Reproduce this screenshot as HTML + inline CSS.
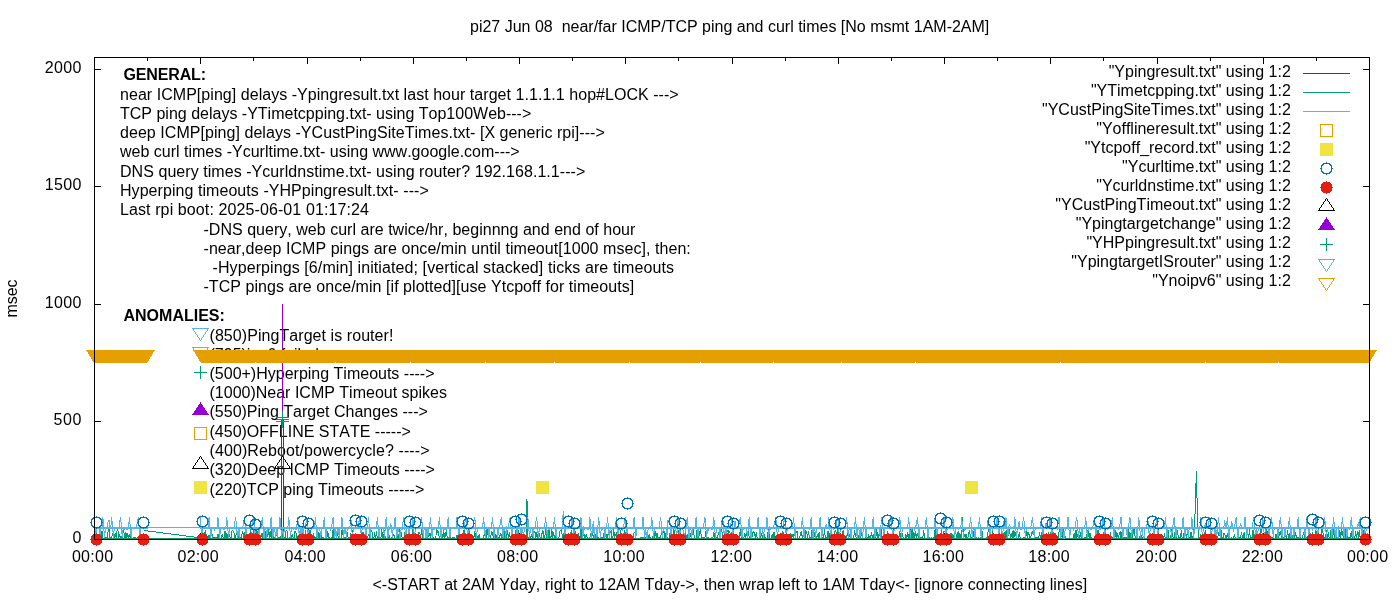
<!DOCTYPE html><html><head><meta charset="utf-8"><style>html,body{margin:0;padding:0;background:#fff;overflow:hidden}svg{display:block;will-change:transform}text{white-space:pre;font-kerning:none}</style></head><body><svg width="1400" height="600" viewBox="0 0 1400 600" font-family="&quot;Liberation Sans&quot;, sans-serif" font-size="16" fill="#000">
<rect width="1400" height="600" fill="#fff"/>
<text x="470" y="32" text-anchor="start">pi27 Jun 08  near/far ICMP/TCP ping and curl times [No msmt 1AM-2AM]</text>
<text x="81.3" y="543" text-anchor="end">0</text>
<text x="81.3" y="425" text-anchor="end" textLength="27.70" lengthAdjust="spacing">500</text>
<text x="81.3" y="308" text-anchor="end" textLength="36.59" lengthAdjust="spacing">1000</text>
<text x="81.3" y="190" text-anchor="end" textLength="36.59" lengthAdjust="spacing">1500</text>
<text x="81.3" y="73" text-anchor="end" textLength="36.59" lengthAdjust="spacing">2000</text>
<text x="92.5" y="562" text-anchor="middle" textLength="41.25" lengthAdjust="spacing">00:00</text>
<text x="198.1" y="562" text-anchor="middle" textLength="41.25" lengthAdjust="spacing">02:00</text>
<text x="305.1" y="562" text-anchor="middle" textLength="41.25" lengthAdjust="spacing">04:00</text>
<text x="411.4" y="562" text-anchor="middle" textLength="41.25" lengthAdjust="spacing">06:00</text>
<text x="517.6" y="562" text-anchor="middle" textLength="41.25" lengthAdjust="spacing">08:00</text>
<text x="623.95" y="562" text-anchor="middle" textLength="41.25" lengthAdjust="spacing">10:00</text>
<text x="731.2" y="562" text-anchor="middle" textLength="41.25" lengthAdjust="spacing">12:00</text>
<text x="837.45" y="562" text-anchor="middle" textLength="41.25" lengthAdjust="spacing">14:00</text>
<text x="943.2" y="562" text-anchor="middle" textLength="41.25" lengthAdjust="spacing">16:00</text>
<text x="1048.95" y="562" text-anchor="middle" textLength="41.25" lengthAdjust="spacing">18:00</text>
<text x="1156.2" y="562" text-anchor="middle" textLength="41.25" lengthAdjust="spacing">20:00</text>
<text x="1262.3" y="562" text-anchor="middle" textLength="41.25" lengthAdjust="spacing">22:00</text>
<text x="1367.6" y="562" text-anchor="middle" textLength="41.25" lengthAdjust="spacing">00:00</text>
<text x="0" y="0" text-anchor="middle" transform="translate(17,298.5) rotate(-90)">msec</text>
<text x="372.5" y="590" text-anchor="start" textLength="714.67" lengthAdjust="spacing">&lt;-START at 2AM Yday, right to 12AM Tday-&gt;, then wrap left to 1AM Tday&lt;- [ignore connecting lines]</text>
<text x="123.5" y="80" text-anchor="start" font-weight="bold" textLength="82.56" lengthAdjust="spacing">GENERAL:</text>
<text x="120" y="100" text-anchor="start" textLength="558.69" lengthAdjust="spacing">near ICMP[ping] delays -Ypingresult.txt last hour target 1.1.1.1 hop#LOCK ---&gt;</text>
<text x="120" y="119" text-anchor="start">TCP ping delays -YTimetcpping.txt- using Top100Web---&gt;</text>
<text x="120" y="138" text-anchor="start" textLength="484.82" lengthAdjust="spacing">deep ICMP[ping] delays -YCustPingSiteTimes.txt- [X generic rpi]---&gt;</text>
<text x="120" y="157" text-anchor="start">web curl times -Ycurltime.txt- using www.google.com---&gt;</text>
<text x="120" y="177" text-anchor="start" textLength="465.27" lengthAdjust="spacing">DNS query times -Ycurldnstime.txt- using router? 192.168.1.1---&gt;</text>
<text x="120" y="196" text-anchor="start" textLength="308.73" lengthAdjust="spacing">Hyperping timeouts -YHPpingresult.txt- ---&gt;</text>
<text x="120" y="215" text-anchor="start" textLength="248.92" lengthAdjust="spacing">Last rpi boot: 2025-06-01 01:17:24</text>
<text x="203.5" y="235" text-anchor="start" textLength="431.87" lengthAdjust="spacing">-DNS query, web curl are twice/hr, beginnng and end of hour</text>
<text x="203.5" y="254" text-anchor="start" textLength="487.31" lengthAdjust="spacing">-near,deep ICMP pings are once/min until timeout[1000 msec], then:</text>
<text x="212.5" y="273" text-anchor="start" textLength="461.50" lengthAdjust="spacing">-Hyperpings [6/min] initiated; [vertical stacked] ticks are timeouts</text>
<text x="203.5" y="292" text-anchor="start" textLength="430.65" lengthAdjust="spacing">-TCP pings are once/min [if plotted][use Ytcpoff for timeouts]</text>
<text x="123.5" y="321" text-anchor="start" font-weight="bold">ANOMALIES:</text>
<text x="209.5" y="341" text-anchor="start" textLength="183.91" lengthAdjust="spacing">(850)PingTarget is router!</text>
<text x="209.5" y="360" text-anchor="start">(795)ipv6 failed -----&gt;</text>
<text x="209.5" y="379" text-anchor="start">(500+)Hyperping Timeouts ----&gt;</text>
<text x="209.5" y="398" text-anchor="start">(1000)Near ICMP Timeout spikes</text>
<text x="209.5" y="417" text-anchor="start">(550)Ping Target Changes ---&gt;</text>
<text x="209.5" y="437" text-anchor="start">(450)OFFLINE STATE -----&gt;</text>
<text x="209.5" y="456" text-anchor="start" textLength="220.02" lengthAdjust="spacing">(400)Reboot/powercycle? ----&gt;</text>
<text x="209.5" y="475" text-anchor="start">(320)Deep ICMP Timeouts ----&gt;</text>
<text x="209.5" y="495" text-anchor="start">(220)TCP ping Timeouts -----&gt;</text>
<g shape-rendering="crispEdges">
<path d="M192.5 328.5L208.5 328.5L200.5 340.5Z" fill="none" stroke="#56b4e9"/>
<path d="M192.5 347.5L208.5 347.5L200.5 359.5Z" fill="none" stroke="#e69f00"/>
<path d="M194 372.5h13M200.5 366v13" stroke="#009e73" fill="none"/>
<path d="M200.5 402L192 415L209 415Z" fill="#9400d3"/>
<rect x="194.5" y="427.5" width="12" height="12" fill="none" stroke="#e69f00"/>
<path d="M200.5 456.5L192.5 468.5L208.5 468.5Z" fill="none" stroke="#000000"/>
<rect x="194" y="481" width="13" height="13" fill="#f0e442"/>
</g>
<text x="1290.8" y="77" text-anchor="end">"Ypingresult.txt" using 1:2</text>
<text x="1290.8" y="96" text-anchor="end">"YTimetcpping.txt" using 1:2</text>
<text x="1290.8" y="115" text-anchor="end">"YCustPingSiteTimes.txt" using 1:2</text>
<text x="1290.8" y="134" text-anchor="end">"Yofflineresult.txt" using 1:2</text>
<text x="1290.8" y="153" text-anchor="end">"Ytcpoff_record.txt" using 1:2</text>
<text x="1290.8" y="172" text-anchor="end">"Ycurltime.txt" using 1:2</text>
<text x="1290.8" y="191" text-anchor="end">"Ycurldnstime.txt" using 1:2</text>
<text x="1290.8" y="210" text-anchor="end">"YCustPingTimeout.txt" using 1:2</text>
<text x="1290.8" y="229" text-anchor="end">"Ypingtargetchange" using 1:2</text>
<text x="1290.8" y="248" text-anchor="end">"YHPpingresult.txt" using 1:2</text>
<text x="1290.8" y="267" text-anchor="end">"YpingtargetISrouter" using 1:2</text>
<text x="1290.8" y="286" text-anchor="end">"Ynoipv6" using 1:2</text>
<path d="M94 539.5h7M1370 539.5h-7M94 421.5h7M1370 421.5h-7M94 304.5h7M1370 304.5h-7M94 186.5h7M1370 186.5h-7M94 69.5h7M1370 69.5h-7M94.5 57v7M94.5 540v-7M147.5 57v4M147.5 540v-4M200.5 57v7M200.5 540v-7M253.5 57v4M253.5 540v-4M307.5 57v7M307.5 540v-7M360.5 57v4M360.5 540v-4M413.5 57v7M413.5 540v-7M466.5 57v4M466.5 540v-4M519.5 57v7M519.5 540v-7M572.5 57v4M572.5 540v-4M625.5 57v7M625.5 540v-7M678.5 57v4M678.5 540v-4M732.5 57v7M732.5 540v-7M785.5 57v4M785.5 540v-4M838.5 57v7M838.5 540v-7M891.5 57v4M891.5 540v-4M944.5 57v7M944.5 540v-7M997.5 57v4M997.5 540v-4M1050.5 57v7M1050.5 540v-7M1103.5 57v4M1103.5 540v-4M1157.5 57v7M1157.5 540v-7M1210.5 57v4M1210.5 540v-4M1263.5 57v7M1263.5 540v-7M1316.5 57v4M1316.5 540v-4M1369.5 57v7M1369.5 540v-7" stroke="#000" fill="none" shape-rendering="crispEdges"/>
<g shape-rendering="crispEdges">
<path d="M281 420h1v116h-1zM282 304h1v116h-1zM283 420h1v116h-1z" fill="#9400d3"/>
<rect x="94" y="538" width="1275" height="1" fill="#009e73"/>
<path d="M144.5 530.5L197.5 537.5" stroke="#009e73" fill="none"/>
<polyline points="200.25,537.98 201.14,538.01 202.02,537.97 202.91,531.87 203.79,537.90 204.68,533.24 205.56,529.91 206.45,538.16 207.33,537.84 208.22,537.96 209.10,535.14 209.99,538.16 210.88,533.65 211.76,532.19 212.65,537.88 213.53,537.95 214.42,537.94 215.30,538.08 216.19,537.83 217.07,537.93 217.96,533.73 218.84,538.15 219.73,538.04 220.61,538.04 221.50,537.88 222.39,533.86 223.27,538.01 224.16,538.04 225.04,531.10 225.93,538.08 226.81,533.05 227.70,537.91 228.58,533.62 229.47,534.85 230.35,538.11 231.24,538.02 232.12,530.42 233.01,531.00 233.90,532.47 234.78,538.08 235.67,537.89 236.55,529.42 237.44,538.04 238.32,537.95 239.21,528.73 240.09,538.09 240.98,538.06 241.86,534.76 242.75,531.41 243.64,537.97 244.52,532.26 245.41,538.01 246.29,537.87 247.18,534.23 248.06,537.89 248.95,533.99 249.83,537.85 250.72,528.99 251.60,537.96 252.49,538.14 253.38,528.91 254.26,537.93 255.15,529.82 256.03,538.07 256.92,530.50 257.80,533.74 258.69,537.88 259.57,538.08 260.46,538.11 261.34,533.47 262.23,538.16 263.11,532.81 264.00,538.13 264.89,529.38 265.77,537.95 266.66,537.97 267.54,535.01 268.43,529.25 269.31,537.84 270.20,531.05 271.08,537.92 271.97,528.66 272.85,531.65 273.74,537.86 274.62,537.93 275.51,537.85 276.40,530.73 277.28,537.87 278.17,537.90 279.05,537.98 279.94,538.04 280.82,537.96 281.71,531.03 282.59,537.87 283.48,538.04 284.36,537.97 285.25,537.88 286.14,530.30 287.02,531.28 287.91,538.10 288.79,538.00 289.68,537.85 290.56,535.17 291.45,537.94 292.33,534.12 293.22,537.94 294.10,537.86 294.99,530.86 295.88,532.40 296.76,537.86 297.65,538.04 298.53,538.07 299.42,531.97 300.30,537.88 301.19,537.84 302.07,534.13 302.96,538.08 303.84,532.52 304.73,538.00 305.61,529.72 306.50,538.02 307.39,535.03 308.27,538.16 309.16,537.98 310.04,530.03 310.93,534.35 311.81,538.17 312.70,538.09 313.58,534.93 314.47,538.02 315.35,537.95 316.24,537.84 317.12,538.11 318.01,538.11 318.90,532.13 319.78,538.11 320.67,532.97 321.55,537.99 322.44,537.91 323.32,537.90 324.21,538.15 325.09,537.92 325.98,532.26 326.86,537.86 327.75,531.50 328.64,537.90 329.52,538.01 330.41,538.11 331.29,537.89 332.18,537.92 333.06,529.32 333.95,537.83 334.83,537.90 335.72,529.25 336.60,538.05 337.49,532.34 338.38,537.91 339.26,538.17 340.15,538.15 341.03,538.12 341.92,530.06 342.80,534.26 343.69,537.92 344.57,537.93 345.46,538.00 346.34,538.15 347.23,531.77 348.11,537.92 349.00,537.99 349.89,537.98 350.77,532.73 351.66,537.86 352.54,529.64 353.43,537.99 354.31,538.11 355.20,538.00 356.08,538.17 356.97,538.00 357.85,537.90 358.74,538.00 359.62,538.15 360.51,538.03 361.40,537.85 362.28,532.13 363.17,532.39 364.05,537.86 364.94,538.07 365.82,531.17 366.71,538.13 367.59,538.17 368.48,533.74 369.36,538.06 370.25,531.16 371.14,530.43 372.02,531.88 372.91,538.11 373.79,538.02 374.68,532.52 375.56,538.12 376.45,531.09 377.33,537.99 378.22,537.96 379.10,538.10 379.99,537.89 380.88,538.07 381.76,529.17 382.65,537.83 383.53,538.13 384.42,530.46 385.30,538.14 386.19,538.03 387.07,538.13 387.96,537.94 388.84,533.92 389.73,537.86 390.61,538.14 391.50,537.91 392.39,537.94 393.27,534.78 394.16,534.99 395.04,538.00 395.93,538.13 396.81,533.90 397.70,537.83 398.58,538.14 399.47,528.98 400.35,537.91 401.24,532.17 402.12,538.03 403.01,538.17 403.90,537.88 404.78,532.25 405.67,538.03 406.55,534.15 407.44,538.17 408.32,537.89 409.21,537.87 410.09,538.03 410.98,538.00 411.86,537.89 412.75,529.24 413.64,537.90 414.52,538.03 415.41,537.87 416.29,537.91 417.18,538.03 418.06,538.15 418.95,532.16 419.83,532.90 420.72,537.96 421.60,529.02 422.49,538.06 423.38,537.98 424.26,538.04 425.15,537.95 426.03,537.91 426.92,538.17 427.80,537.92 428.69,532.60 429.57,533.95 430.46,538.14 431.34,529.28 432.23,538.00 433.11,537.98 434.00,537.95 434.89,538.15 435.77,537.91 436.66,529.12 437.54,532.14 438.43,531.98 439.31,538.16 440.20,538.03 441.08,537.97 441.97,533.36 442.85,537.98 443.74,530.52 444.62,538.17 445.51,534.96 446.40,530.27 447.28,537.86 448.17,538.16 449.05,537.84 449.94,529.28 450.82,538.01 451.71,538.09 452.59,537.85 453.48,538.01 454.36,537.89 455.25,538.14 456.14,538.02 457.02,534.90 457.91,538.13 458.79,537.94 459.68,538.09 460.56,538.03 461.45,537.99 462.33,537.84 463.22,538.09 464.10,529.37 464.99,537.96 465.88,533.45 466.76,537.98 467.65,537.95 468.53,538.11 469.42,528.79 470.30,537.87 471.19,534.84 472.07,538.03 472.96,538.14 473.84,538.15 474.73,530.79 475.61,537.96 476.50,532.09 477.39,538.06 478.27,537.88 479.16,534.45 480.04,537.96 480.93,538.10 481.81,538.09 482.70,538.05 483.58,537.83 484.47,531.63 485.35,537.85 486.24,538.05 487.12,529.48 488.01,534.69 488.90,538.01 489.78,538.07 490.67,538.15 491.55,530.88 492.44,533.24 493.32,537.93 494.21,534.30 495.09,537.92 495.98,534.47 496.86,537.98 497.75,537.85 498.64,538.02 499.52,538.07 500.41,532.61 501.29,537.86 502.18,532.86 503.06,538.05 503.95,538.04 504.83,531.53 505.72,537.99 506.60,537.98 507.49,530.25 508.38,538.08 509.26,531.85 510.15,537.98 511.03,537.95 511.92,538.15 512.80,537.90 513.69,534.70 514.57,537.86 515.46,531.07 516.34,530.33 517.23,538.09 518.11,530.20 519.00,537.91 519.89,538.06 520.77,537.94 521.66,537.99 522.54,537.93 523.43,538.03 524.31,537.94 525.20,537.89 526.08,537.86 526.97,499.05 527.85,537.93 528.74,538.03 529.62,538.13 530.51,537.83 531.40,534.14 532.28,538.03 533.17,528.86 534.05,533.21 534.94,530.98 535.82,538.11 536.71,532.22 537.59,537.86 538.48,534.52 539.36,533.81 540.25,537.92 541.14,538.10 542.02,533.39 542.91,530.26 543.79,537.98 544.68,538.01 545.56,529.40 546.45,538.06 547.33,537.84 548.22,538.10 549.10,529.01 549.99,538.04 550.88,538.00 551.76,528.72 552.65,538.09 553.53,532.13 554.42,537.90 555.30,537.96 556.19,534.21 557.07,538.09 557.96,538.00 558.84,537.83 559.73,531.72 560.61,530.17 561.50,529.84 562.39,537.89 563.27,533.46 564.16,538.14 565.04,538.01 565.93,537.97 566.81,538.07 567.70,538.03 568.58,538.15 569.47,538.10 570.35,537.99 571.24,529.77 572.12,538.07 573.01,533.23 573.90,537.93 574.78,530.72 575.67,532.65 576.55,537.84 577.44,537.95 578.32,532.76 579.21,538.09 580.09,538.02 580.98,528.72 581.86,538.10 582.75,538.08 583.64,531.69 584.52,538.06 585.41,537.94 586.29,533.92 587.18,538.06 588.06,537.98 588.95,538.06 589.83,538.14 590.72,534.62 591.60,537.93 592.49,532.59 593.38,537.97 594.26,533.75 595.15,534.42 596.03,538.15 596.92,538.03 597.80,537.95 598.69,537.89 599.57,538.06 600.46,538.17 601.34,537.93 602.23,537.90 603.11,537.96 604.00,533.06 604.89,537.95 605.77,532.76 606.66,537.90 607.54,537.96 608.43,530.20 609.31,537.98 610.20,531.95 611.08,530.55 611.97,538.00 612.85,537.88 613.74,529.02 614.62,538.11 615.51,533.63 616.40,537.93 617.28,529.13 618.17,538.01 619.05,528.83 619.94,529.29 620.82,537.98 621.71,538.08 622.59,537.83 623.48,537.97 624.36,529.81 625.25,537.86 626.14,531.47 627.02,538.11 627.91,538.15 628.79,534.06 629.68,537.85 630.56,538.07 631.45,537.92 632.33,537.97 633.22,538.17 634.10,532.16 634.99,532.70 635.88,538.12 636.76,538.08 637.65,538.06 638.53,538.16 639.42,538.13 640.30,537.97 641.19,538.03 642.07,537.93 642.96,537.91 643.84,537.83 644.73,537.88 645.61,538.02 646.50,537.86 647.39,537.99 648.27,537.86 649.16,534.88 650.04,537.86 650.93,537.97 651.81,538.07 652.70,538.15 653.58,532.30 654.47,538.04 655.35,530.67 656.24,538.09 657.12,532.64 658.01,538.15 658.90,537.84 659.78,537.87 660.67,537.89 661.55,530.33 662.44,537.86 663.32,530.03 664.21,531.70 665.09,538.18 665.98,533.27 666.86,538.16 667.75,537.89 668.64,538.05 669.52,538.16 670.41,529.33 671.29,538.00 672.18,537.83 673.06,538.10 673.95,529.17 674.83,538.11 675.72,538.05 676.60,538.12 677.49,537.83 678.38,531.08 679.26,529.45 680.15,534.54 681.03,538.07 681.92,537.87 682.80,538.13 683.69,537.85 684.57,538.15 685.46,533.22 686.34,538.11 687.23,533.69 688.11,537.90 689.00,530.88 689.89,537.97 690.77,533.26 691.66,537.94 692.54,531.03 693.43,528.77 694.31,537.99 695.20,538.16 696.08,538.08 696.97,529.95 697.85,533.36 698.74,538.09 699.62,531.63 700.51,529.34 701.40,538.17 702.28,537.91 703.17,537.85 704.05,538.11 704.94,537.95 705.82,530.91 706.71,538.00 707.59,537.88 708.48,537.99 709.36,538.12 710.25,538.12 711.14,538.09 712.02,537.91 712.91,537.90 713.79,532.02 714.68,537.97 715.56,538.17 716.45,537.93 717.33,537.87 718.22,534.24 719.10,531.98 719.99,538.02 720.88,529.99 721.76,529.27 722.65,537.99 723.53,538.09 724.42,533.19 725.30,533.17 726.19,537.99 727.07,531.37 727.96,529.84 728.84,533.56 729.73,530.70 730.61,537.90 731.50,532.54 732.39,538.10 733.27,538.16 734.16,537.91 735.04,538.13 735.93,537.91 736.81,533.66 737.70,538.13 738.58,538.07 739.47,538.15 740.35,528.69 741.24,537.92 742.12,533.57 743.01,538.09 743.90,537.85 744.78,533.02 745.67,537.96 746.55,532.59 747.44,538.16 748.32,530.67 749.21,537.97 750.09,538.01 750.98,537.88 751.86,537.90 752.75,532.95 753.64,531.62 754.52,533.90 755.41,538.01 756.29,532.30 757.18,537.94 758.06,538.11 758.95,538.15 759.83,538.05 760.72,535.12 761.60,533.51 762.49,537.85 763.38,538.08 764.26,534.23 765.15,538.05 766.03,537.92 766.92,538.17 767.80,532.71 768.69,529.43 769.57,537.91 770.46,538.16 771.34,538.09 772.23,534.25 773.11,538.17 774.00,532.45 774.89,538.13 775.77,538.09 776.66,537.94 777.54,533.89 778.43,537.93 779.31,538.04 780.20,538.10 781.08,532.97 781.97,538.16 782.85,531.09 783.74,537.89 784.62,538.07 785.51,537.85 786.40,530.70 787.28,537.84 788.17,538.09 789.05,538.15 789.94,538.04 790.82,532.72 791.71,538.00 792.59,534.20 793.48,538.01 794.36,530.86 795.25,538.14 796.14,532.46 797.02,531.41 797.91,537.98 798.79,538.17 799.68,538.05 800.56,532.58 801.45,531.98 802.33,538.01 803.22,533.57 804.10,532.96 804.99,537.98 805.88,530.84 806.76,532.15 807.65,537.84 808.53,531.45 809.42,537.91 810.30,537.96 811.19,538.03 812.07,529.78 812.96,538.04 813.84,538.16 814.73,531.90 815.61,538.05 816.50,538.12 817.39,533.74 818.27,538.09 819.16,531.66 820.04,538.09 820.93,537.95 821.81,537.96 822.70,537.88 823.58,538.06 824.47,529.41 825.35,537.93 826.24,537.94 827.12,537.89 828.01,531.15 828.90,537.98 829.78,533.36 830.67,537.99 831.55,533.60 832.44,538.11 833.32,538.13 834.21,534.79 835.09,530.60 835.98,532.27 836.86,538.01 837.75,529.54 838.64,538.16 839.52,531.90 840.41,538.04 841.29,538.09 842.18,538.06 843.06,530.24 843.95,537.89 844.83,538.03 845.72,537.96 846.60,537.90 847.49,532.76 848.38,538.10 849.26,535.15 850.15,537.85 851.03,538.13 851.92,538.03 852.80,538.04 853.69,537.83 854.57,530.55 855.46,534.96 856.34,537.92 857.23,538.14 858.11,535.07 859.00,538.01 859.89,533.21 860.77,537.88 861.66,532.66 862.54,537.91 863.43,538.04 864.31,537.99 865.20,538.13 866.08,534.54 866.97,538.09 867.85,538.14 868.74,535.11 869.62,538.13 870.51,538.08 871.40,532.07 872.28,538.09 873.17,534.82 874.05,538.07 874.94,534.04 875.82,537.83 876.71,529.53 877.59,538.03 878.48,538.04 879.36,531.62 880.25,537.96 881.14,529.06 882.02,537.83 882.91,537.88 883.79,538.12 884.68,534.13 885.56,534.75 886.45,537.91 887.33,531.86 888.22,533.86 889.10,538.17 889.99,537.89 890.88,537.92 891.76,537.89 892.65,537.91 893.53,538.14 894.42,538.04 895.30,538.09 896.19,538.17 897.07,538.10 897.96,538.05 898.84,537.89 899.73,531.04 900.61,538.08 901.50,538.06 902.39,533.04 903.27,538.10 904.16,537.98 905.04,538.12 905.93,534.30 906.81,538.03 907.70,531.93 908.58,538.06 909.47,537.84 910.35,529.45 911.24,537.91 912.12,528.74 913.01,537.84 913.90,532.55 914.78,538.11 915.67,530.78 916.55,538.06 917.44,532.89 918.32,538.13 919.21,538.04 920.09,538.10 920.98,537.86 921.86,537.96 922.75,537.98 923.64,529.73 924.52,538.02 925.41,538.03 926.29,538.10 927.18,537.98 928.06,538.17 928.95,538.02 929.83,537.97 930.72,538.12 931.60,537.83 932.49,538.07 933.38,537.83 934.26,537.87 935.15,528.73 936.03,538.09 936.92,537.95 937.80,537.89 938.69,538.00 939.57,538.15 940.46,537.93 941.34,529.93 942.23,537.99 943.11,538.11 944.00,531.00 944.89,531.59 945.77,538.00 946.66,529.98 947.54,537.91 948.43,537.86 949.31,538.12 950.20,534.58 951.08,532.96 951.97,537.88 952.85,534.04 953.74,537.88 954.62,537.86 955.51,528.74 956.40,537.96 957.28,537.92 958.17,530.84 959.05,538.17 959.94,533.17 960.82,538.08 961.71,537.93 962.59,516.67 963.48,538.01 964.36,534.48 965.25,537.96 966.14,533.95 967.02,537.93 967.91,538.05 968.79,532.55 969.68,531.09 970.56,537.89 971.45,538.02 972.33,537.85 973.22,530.61 974.10,537.97 974.99,529.50 975.88,537.88 976.76,538.02 977.65,538.04 978.53,537.97 979.42,538.15 980.30,538.08 981.19,537.84 982.07,530.67 982.96,538.09 983.84,538.13 984.73,538.09 985.61,538.06 986.50,537.88 987.39,537.99 988.27,529.34 989.16,532.85 990.04,537.92 990.93,538.06 991.81,537.84 992.70,531.07 993.58,538.05 994.47,538.07 995.35,537.96 996.24,537.83 997.12,538.04 998.01,537.95 998.90,537.83 999.78,532.20 1000.67,537.95 1001.55,528.73 1002.44,538.05 1003.32,532.64 1004.21,538.15 1005.09,530.97 1005.98,537.92 1006.86,529.90 1007.75,537.90 1008.64,532.16 1009.52,529.58 1010.41,537.86 1011.29,532.93 1012.18,537.99 1013.06,530.05 1013.95,538.00 1014.83,531.50 1015.72,534.66 1016.60,538.07 1017.49,538.09 1018.38,538.16 1019.26,532.27 1020.15,538.02 1021.03,538.14 1021.92,538.12 1022.80,537.99 1023.69,537.96 1024.57,537.84 1025.46,538.17 1026.34,529.85 1027.23,537.93 1028.11,531.75 1029.00,534.51 1029.89,537.84 1030.77,537.88 1031.66,532.50 1032.54,533.52 1033.43,529.19 1034.31,538.01 1035.20,537.86 1036.08,537.98 1036.97,537.86 1037.85,538.07 1038.74,538.09 1039.62,532.42 1040.51,538.05 1041.40,538.02 1042.28,529.74 1043.17,531.77 1044.05,538.04 1044.94,534.59 1045.82,538.07 1046.71,538.10 1047.59,538.01 1048.48,532.56 1049.36,538.18 1050.25,537.84 1051.14,531.30 1052.02,538.07 1052.91,537.97 1053.79,531.97 1054.68,537.91 1055.56,534.63 1056.45,538.08 1057.33,538.03 1058.22,538.04 1059.10,530.77 1059.99,528.76 1060.88,538.06 1061.76,529.85 1062.65,537.95 1063.53,530.22 1064.42,531.13 1065.30,537.85 1066.19,538.17 1067.07,537.91 1067.96,538.18 1068.84,538.03 1069.73,537.83 1070.61,538.15 1071.50,538.02 1072.39,538.04 1073.27,538.02 1074.16,533.13 1075.04,538.15 1075.93,529.75 1076.81,537.98 1077.70,534.46 1078.58,537.84 1079.47,537.85 1080.35,532.51 1081.24,537.88 1082.12,529.49 1083.01,538.17 1083.90,538.04 1084.78,537.85 1085.67,537.93 1086.55,537.90 1087.44,530.36 1088.32,531.39 1089.21,538.06 1090.09,532.94 1090.98,537.99 1091.86,537.98 1092.75,538.05 1093.64,538.01 1094.52,538.06 1095.41,538.10 1096.29,530.43 1097.18,538.09 1098.06,529.81 1098.95,537.92 1099.83,537.96 1100.72,537.83 1101.60,538.02 1102.49,538.10 1103.38,538.14 1104.26,529.66 1105.15,530.64 1106.03,537.98 1106.92,534.24 1107.80,537.91 1108.69,538.14 1109.57,538.10 1110.46,531.72 1111.34,538.13 1112.23,537.97 1113.11,537.85 1114.00,538.05 1114.89,537.92 1115.77,529.60 1116.66,538.08 1117.54,535.11 1118.43,538.09 1119.31,533.58 1120.20,532.05 1121.08,538.08 1121.97,531.89 1122.85,538.12 1123.74,537.88 1124.62,537.99 1125.51,537.99 1126.40,537.85 1127.28,538.09 1128.17,529.08 1129.05,537.90 1129.94,532.26 1130.82,537.92 1131.71,538.00 1132.59,538.05 1133.48,528.99 1134.36,529.05 1135.25,538.15 1136.14,538.14 1137.02,538.14 1137.91,538.07 1138.79,538.16 1139.68,538.15 1140.56,531.48 1141.45,537.94 1142.33,537.90 1143.22,538.15 1144.10,538.11 1144.99,538.05 1145.88,538.11 1146.76,538.03 1147.65,538.15 1148.53,537.98 1149.42,537.98 1150.30,533.26 1151.19,537.93 1152.07,537.83 1152.96,537.85 1153.84,537.85 1154.73,532.02 1155.61,537.94 1156.50,537.96 1157.39,538.15 1158.27,537.84 1159.16,534.50 1160.04,537.84 1160.93,535.03 1161.81,537.93 1162.70,537.97 1163.58,537.89 1164.47,534.79 1165.35,537.83 1166.24,538.03 1167.12,532.96 1168.01,530.17 1168.90,537.97 1169.78,538.06 1170.67,538.02 1171.55,529.44 1172.44,534.25 1173.32,538.01 1174.21,538.06 1175.09,530.93 1175.98,537.99 1176.86,529.47 1177.75,533.71 1178.64,538.06 1179.52,537.94 1180.41,537.99 1181.29,530.22 1182.18,538.10 1183.06,537.83 1183.95,532.89 1184.83,537.83 1185.72,538.13 1186.60,537.90 1187.49,530.04 1188.38,538.08 1189.26,537.92 1190.15,537.89 1191.03,531.96 1191.92,538.15 1192.80,538.13 1193.69,529.46 1194.57,524.90 1195.46,503.75 1196.34,471.09 1197.23,506.10 1198.11,530.78 1199.00,537.92 1199.89,538.02 1200.77,534.45 1201.66,537.85 1202.54,534.02 1203.43,538.16 1204.31,534.04 1205.20,531.77 1206.08,537.98 1206.97,537.99 1207.85,538.15 1208.74,534.74 1209.62,537.91 1210.51,538.00 1211.40,533.07 1212.28,538.07 1213.17,537.83 1214.05,537.96 1214.94,538.01 1215.82,529.03 1216.71,538.17 1217.59,538.04 1218.48,534.17 1219.36,530.39 1220.25,538.17 1221.14,529.98 1222.02,537.95 1222.91,538.11 1223.79,533.24 1224.68,533.53 1225.56,538.05 1226.45,537.96 1227.33,532.89 1228.22,537.97 1229.10,537.99 1229.99,538.06 1230.88,538.10 1231.76,537.88 1232.65,538.12 1233.53,537.83 1234.42,534.12 1235.30,538.09 1236.19,538.12 1237.07,538.08 1237.96,530.72 1238.84,537.98 1239.73,537.85 1240.61,538.04 1241.50,531.97 1242.39,537.98 1243.27,538.01 1244.16,531.97 1245.04,537.95 1245.93,538.08 1246.81,538.15 1247.70,538.09 1248.58,537.90 1249.47,529.30 1250.35,538.03 1251.24,537.84 1252.12,538.01 1253.01,529.71 1253.90,538.06 1254.78,533.82 1255.67,537.89 1256.55,537.85 1257.44,537.90 1258.32,537.89 1259.21,538.12 1260.09,538.07 1260.98,529.19 1261.86,531.87 1262.75,537.90 1263.64,537.86 1264.52,537.95 1265.41,530.85 1266.29,528.78 1267.18,538.07 1268.06,530.67 1268.95,537.83 1269.83,538.13 1270.72,538.16 1271.60,537.91 1272.49,537.87 1273.38,537.84 1274.26,538.00 1275.15,538.05 1276.03,534.18 1276.92,538.10 1277.80,537.90 1278.69,538.00 1279.57,533.44 1280.46,530.98 1281.34,537.85 1282.23,529.14 1283.11,538.08 1284.00,537.96 1284.89,537.90 1285.77,533.40 1286.66,538.01 1287.54,529.56 1288.43,538.01 1289.31,538.09 1290.20,531.42 1291.08,538.06 1291.97,534.90 1292.85,537.99 1293.74,537.95 1294.62,538.03 1295.51,532.12 1296.40,538.13 1297.28,537.94 1298.17,537.98 1299.05,537.85 1299.94,538.09 1300.82,537.83 1301.71,538.11 1302.59,538.16 1303.48,531.61 1304.36,537.92 1305.25,538.06 1306.14,537.95 1307.02,538.02 1307.91,538.14 1308.79,537.84 1309.68,538.16 1310.56,533.47 1311.45,538.02 1312.33,532.44 1313.22,537.92 1314.10,537.95 1314.99,537.96 1315.88,530.56 1316.76,534.88 1317.65,538.17 1318.53,532.67 1319.42,538.14 1320.30,537.88 1321.19,537.97 1322.07,528.77 1322.96,533.24 1323.84,537.87 1324.73,538.03 1325.61,537.86 1326.50,530.03 1327.39,538.02 1328.27,532.37 1329.16,538.07 1330.04,538.03 1330.93,530.16 1331.81,538.01 1332.70,538.02 1333.58,529.33 1334.47,537.90 1335.35,537.94 1336.24,538.07 1337.12,537.84 1338.01,537.94 1338.90,537.95 1339.78,530.17 1340.67,537.83 1341.55,530.56 1342.44,532.50 1343.32,538.09 1344.21,538.10 1345.09,537.83 1345.98,529.23 1346.86,531.40 1347.75,537.88 1348.64,537.97 1349.52,537.91 1350.41,537.97 1351.29,530.60 1352.18,537.99 1353.06,538.13 1353.95,538.06 1354.83,537.84 1355.72,531.51 1356.60,538.00 1357.49,531.12 1358.38,537.94 1359.26,529.94 1360.15,538.13 1361.03,538.02 1361.92,537.83 1362.80,537.84 1363.69,530.25 1364.57,533.26 1365.46,537.93 1366.34,538.04 1367.23,532.88 1368.11,538.17" fill="none" stroke="#009e73" stroke-width="1"/>
<polyline points="94.00,530.92 94.89,533.19 95.77,537.85 96.66,534.07 97.54,534.68 98.43,537.92 99.31,532.02 100.20,538.17 101.08,537.87 101.97,530.61 102.85,538.06 103.74,538.10 104.62,538.07 105.51,537.89 106.40,537.96 107.28,538.10 108.17,531.16 109.05,528.90 109.94,538.02 110.82,537.89 111.71,537.94 112.59,532.90 113.48,538.10 114.36,537.87 115.25,532.84 116.14,537.92 117.02,530.66 117.91,529.71 118.79,537.97 119.68,534.95 120.56,537.83 121.45,537.87 122.33,534.57 123.22,530.65 124.10,533.45 124.99,537.93 125.88,532.16 126.76,537.98 127.65,532.87 128.53,538.07 129.42,535.13 130.30,537.97 131.19,534.50 132.07,538.01 132.96,538.07 133.84,537.91 134.73,537.95 135.61,538.00 136.50,538.04 137.39,538.01 138.27,537.99 139.16,537.86 140.04,535.09 140.93,538.17 141.81,537.96 142.70,533.98" fill="none" stroke="#009e73" stroke-width="1"/>
<rect x="143" y="527" width="58" height="1" fill="#56b4e9"/>
<rect x="95" y="527" width="53" height="2" fill="#56b4e9"/>
<rect x="200" y="527" width="1169" height="2" fill="#56b4e9"/>
<polyline points="200.25,516.89 201.14,527.41 202.02,537.71 202.91,527.41 203.79,527.41 204.68,527.41 205.56,527.41 206.45,527.41 207.33,527.41 208.22,527.41 209.10,516.88 209.99,527.41 210.88,537.60 211.76,527.41 212.65,527.41 213.53,527.41 214.42,529.66 215.30,527.41 216.19,527.41 217.07,527.41 217.96,517.28 218.84,527.41 219.73,537.69 220.61,527.41 221.50,527.41 222.39,527.41 223.27,528.44 224.16,529.83 225.04,527.41 225.93,527.41 226.81,517.42 227.70,527.41 228.58,537.90 229.47,527.41 230.35,527.41 231.24,527.41 232.12,527.41 233.01,527.41 233.90,527.41 234.78,522.13 235.67,516.86 236.55,527.41 237.44,537.82 238.32,527.41 239.21,537.98 240.09,527.41 240.98,527.41 241.86,527.41 242.75,527.41 243.64,522.47 244.52,517.03 245.41,527.41 246.29,538.14 247.18,527.41 248.06,528.82 248.95,527.41 249.83,527.41 250.72,527.41 251.60,529.02 252.49,521.64 253.38,516.99 254.26,527.41 255.15,537.76 256.03,527.41 256.92,530.01 257.80,527.41 258.69,538.15 259.57,529.80 260.46,527.41 261.34,527.41 262.23,517.27 263.11,527.41 264.00,538.11 264.89,527.41 265.77,527.41 266.66,537.85 267.54,527.41 268.43,527.41 269.31,529.14 270.20,527.41 271.08,516.92 271.97,527.41 272.85,538.12 273.74,527.41 274.62,527.41 275.51,537.95 276.40,527.41 277.28,538.10 278.17,527.41 279.05,527.41 279.94,517.45 280.82,527.41 281.71,538.16 282.59,527.41 283.48,538.09 284.36,527.41 285.25,527.41 286.14,527.41 287.02,527.41 287.91,527.41 288.79,517.23 289.68,527.41 290.56,537.79 291.45,527.41 292.33,527.41 293.22,529.26 294.10,527.41 294.99,527.41 295.88,530.02 296.76,527.41 297.65,517.24 298.53,527.41 299.42,538.06 300.30,527.41 301.19,537.88 302.07,527.41 302.96,537.94 303.84,527.41 304.73,527.41 305.61,527.41 306.50,517.33 307.39,527.41 308.27,538.16 309.16,527.41 310.04,527.41 310.93,528.65 311.81,529.76 312.70,527.41 313.58,527.41 314.47,527.41 315.35,516.97 316.24,527.41 317.12,537.76 318.01,527.41 318.90,527.41 319.78,528.71 320.67,538.18 321.55,530.02 322.44,527.41 323.32,527.41 324.21,517.44 325.09,527.41 325.98,538.26 326.86,527.41 327.75,527.41 328.64,527.41 329.52,527.41 330.41,529.88 331.29,527.41 332.18,522.63 333.06,517.36 333.95,527.41 334.83,537.84 335.72,527.41 336.60,538.18 337.49,527.41 338.38,527.41 339.26,537.89 340.15,527.41 341.03,527.41 341.92,517.16 342.80,527.41 343.69,538.27 344.57,527.41 345.46,527.41 346.34,538.06 347.23,528.61 348.11,527.41 349.00,527.41 349.89,527.41 350.77,516.83 351.66,527.41 352.54,538.20 353.43,527.41 354.31,527.41 355.20,527.41 356.08,527.41 356.97,527.41 357.85,527.41 358.74,522.38 359.62,517.29 360.51,527.41 361.40,537.77 362.28,527.41 363.17,527.41 364.05,527.41 364.94,527.41 365.82,538.02 366.71,527.41 367.59,527.41 368.48,517.42 369.36,527.41 370.25,537.60 371.14,527.41 372.02,527.41 372.91,527.41 373.79,527.41 374.68,527.41 375.56,527.41 376.45,527.41 377.33,517.09 378.22,527.41 379.10,537.67 379.99,527.41 380.88,527.41 381.76,527.41 382.65,527.41 383.53,527.41 384.42,538.01 385.30,527.41 386.19,517.40 387.07,527.41 387.96,537.74 388.84,527.41 389.73,529.04 390.61,523.23 391.50,527.41 392.39,537.98 393.27,527.41 394.16,527.41 395.04,517.31 395.93,527.41 396.81,538.04 397.70,527.41 398.58,527.41 399.47,537.70 400.35,537.90 401.24,527.41 402.12,530.07 403.01,522.32 403.90,517.30 404.78,527.41 405.67,537.60 406.55,527.41 407.44,527.41 408.32,528.89 409.21,537.96 410.09,527.41 410.98,527.41 411.86,527.41 412.75,517.20 413.64,527.41 414.52,538.07 415.41,527.41 416.29,527.41 417.18,527.41 418.06,527.41 418.95,527.41 419.83,527.41 420.72,521.68 421.60,516.82 422.49,527.41 423.38,538.15 424.26,527.41 425.15,527.41 426.03,538.27 426.92,527.41 427.80,537.78 428.69,527.41 429.57,527.41 430.46,516.82 431.34,527.41 432.23,538.25 433.11,527.41 434.00,530.01 434.89,527.41 435.77,527.41 436.66,527.41 437.54,527.41 438.43,527.41 439.31,517.24 440.20,527.41 441.08,538.22 441.97,527.41 442.85,527.41 443.74,529.69 444.62,529.80 445.51,529.20 446.40,529.08 447.28,527.41 448.17,517.25 449.05,527.41 449.94,538.21 450.82,527.41 451.71,527.41 452.59,527.41 453.48,527.41 454.36,527.41 455.25,527.41 456.14,527.41 457.02,517.02 457.91,527.41 458.79,537.61 459.68,527.41 460.56,527.41 461.45,527.41 462.33,527.41 463.22,527.41 464.10,529.29 464.99,521.94 465.88,517.14 466.76,527.41 467.65,537.94 468.53,527.41 469.42,529.85 470.30,527.41 471.19,527.41 472.07,527.41 472.96,527.41 473.84,522.14 474.73,517.14 475.61,527.41 476.50,537.73 477.39,527.41 478.27,527.41 479.16,527.41 480.04,527.41 480.93,527.41 481.81,527.41 482.70,527.41 483.58,516.79 484.47,527.41 485.35,538.26 486.24,527.41 487.12,527.41 488.01,528.95 488.90,538.19 489.78,527.41 490.67,527.41 491.55,527.41 492.44,517.18 493.32,527.41 494.21,538.09 495.09,527.41 495.98,527.41 496.86,527.41 497.75,538.29 498.64,527.41 499.52,527.41 500.41,522.59 501.29,516.87 502.18,527.41 503.06,537.77 503.95,527.41 504.83,528.96 505.72,537.98 506.60,527.41 507.49,528.53 508.38,527.41 509.26,521.68 510.15,517.42 511.03,527.41 511.92,538.27 512.80,527.41 513.69,527.41 514.57,527.41 515.46,527.41 516.34,527.41 517.23,538.26 518.11,527.41 519.00,517.17 519.89,527.41 520.77,538.08 521.66,527.41 522.54,527.41 523.43,537.84 524.31,528.55 525.20,527.41 526.08,527.41 526.97,527.41 527.85,516.99 528.74,527.41 529.62,537.66 530.51,527.41 531.40,527.41 532.28,529.24 533.17,537.91 534.05,527.41 534.94,527.41 535.82,522.01 536.71,517.27 537.59,527.41 538.48,538.18 539.36,527.41 540.25,527.41 541.14,527.41 542.02,527.41 542.91,527.41 543.79,527.41 544.68,527.41 545.56,517.17 546.45,527.41 547.33,538.21 548.22,527.41 549.10,529.79 549.99,527.41 550.88,527.41 551.76,527.41 552.65,527.41 553.53,527.41 554.42,517.37 555.30,527.41 556.19,537.61 557.07,527.41 557.96,527.41 558.84,528.91 559.73,527.41 560.61,527.41 561.50,527.41 562.39,527.41 563.27,510.56 564.16,527.41 565.04,537.61 565.93,527.41 566.81,527.41 567.70,527.41 568.58,527.41 569.47,527.41 570.35,527.41 571.24,527.41 572.12,517.25 573.01,527.41 573.90,538.05 574.78,527.41 575.67,527.41 576.55,527.41 577.44,527.41 578.32,527.41 579.21,527.41 580.09,527.41 580.98,517.32 581.86,527.41 582.75,538.07 583.64,527.41 584.52,528.76 585.41,527.41 586.29,527.41 587.18,527.41 588.06,529.84 588.95,527.41 589.83,516.87 590.72,527.41 591.60,538.24 592.49,527.41 593.38,520.98 594.26,537.68 595.15,527.41 596.03,527.41 596.92,538.09 597.80,527.41 598.69,517.30 599.57,527.41 600.46,537.78 601.34,527.41 602.23,529.02 603.11,527.41 604.00,527.41 604.89,538.21 605.77,528.77 606.66,527.41 607.54,517.49 608.43,527.41 609.31,537.98 610.20,527.41 611.08,527.41 611.97,527.41 612.85,529.38 613.74,527.41 614.62,527.41 615.51,527.41 616.40,516.85 617.28,527.41 618.17,537.68 619.05,527.41 619.94,527.41 620.82,528.74 621.71,529.15 622.59,529.92 623.48,527.41 624.36,521.39 625.25,517.09 626.14,527.41 627.02,537.66 627.91,527.41 628.79,527.41 629.68,527.41 630.56,527.41 631.45,527.41 632.33,527.41 633.22,527.41 634.10,517.39 634.99,527.41 635.88,537.92 636.76,527.41 637.65,527.41 638.53,527.41 639.42,527.41 640.30,527.41 641.19,527.41 642.07,527.41 642.96,516.92 643.84,527.41 644.73,538.23 645.61,527.41 646.50,538.26 647.39,537.62 648.27,527.41 649.16,527.41 650.04,527.41 650.93,527.41 651.81,517.30 652.70,527.41 653.58,537.75 654.47,527.41 655.35,527.41 656.24,527.41 657.12,527.41 658.01,529.17 658.90,528.62 659.78,522.41 660.67,516.96 661.55,527.41 662.44,537.88 663.32,527.41 664.21,527.41 665.09,527.41 665.98,527.41 666.86,537.97 667.75,521.41 668.64,522.59 669.52,517.36 670.41,527.41 671.29,537.92 672.18,527.41 673.06,527.41 673.95,528.45 674.83,527.41 675.72,527.41 676.60,537.71 677.49,527.41 678.38,517.37 679.26,527.41 680.15,537.76 681.03,527.41 681.92,527.41 682.80,527.41 683.69,538.21 684.57,538.13 685.46,527.41 686.34,527.41 687.23,517.16 688.11,527.41 689.00,538.21 689.89,527.41 690.77,527.41 691.66,537.84 692.54,527.41 693.43,527.41 694.31,527.41 695.20,527.41 696.08,517.17 696.97,527.41 697.85,538.03 698.74,527.41 699.62,527.41 700.51,527.41 701.40,527.41 702.28,527.41 703.17,527.41 704.05,522.72 704.94,517.22 705.82,527.41 706.71,538.04 707.59,527.41 708.48,529.94 709.36,527.41 710.25,527.41 711.14,527.41 712.02,529.55 712.91,527.41 713.79,517.28 714.68,527.41 715.56,538.20 716.45,527.41 717.33,527.41 718.22,527.41 719.10,527.41 719.99,538.22 720.88,528.81 721.76,521.76 722.65,516.94 723.53,527.41 724.42,538.24 725.30,527.41 726.19,538.07 727.07,527.41 727.96,527.41 728.84,527.41 729.73,527.41 730.61,527.41 731.50,517.16 732.39,527.41 733.27,537.74 734.16,527.41 735.04,520.71 735.93,527.41 736.81,527.41 737.70,527.41 738.58,527.41 739.47,521.39 740.35,517.36 741.24,527.41 742.12,537.73 743.01,527.41 743.90,529.57 744.78,527.41 745.67,527.41 746.55,527.41 747.44,537.66 748.32,527.41 749.21,517.14 750.09,527.41 750.98,538.26 751.86,527.41 752.75,527.41 753.64,527.41 754.52,527.41 755.41,527.41 756.29,527.41 757.18,527.41 758.06,517.45 758.95,527.41 759.83,538.12 760.72,527.41 761.60,527.41 762.49,527.41 763.38,538.25 764.26,529.39 765.15,527.41 766.03,527.41 766.92,517.10 767.80,527.41 768.69,538.09 769.57,527.41 770.46,528.96 771.34,527.41 772.23,527.41 773.11,527.41 774.00,524.63 774.89,522.36 775.77,517.42 776.66,527.41 777.54,538.27 778.43,527.41 779.31,527.41 780.20,528.62 781.08,527.41 781.97,527.41 782.85,527.41 783.74,522.64 784.62,516.94 785.51,527.41 786.40,537.90 787.28,527.41 788.17,527.41 789.05,527.41 789.94,527.41 790.82,527.41 791.71,527.41 792.59,527.41 793.48,516.87 794.36,527.41 795.25,537.78 796.14,527.41 797.02,527.41 797.91,527.41 798.79,527.41 799.68,527.41 800.56,527.41 801.45,527.41 802.33,516.89 803.22,527.41 804.10,538.26 804.99,527.41 805.88,527.41 806.76,527.41 807.65,527.41 808.53,527.41 809.42,529.29 810.30,527.41 811.19,516.83 812.07,527.41 812.96,538.18 813.84,527.41 814.73,527.41 815.61,537.76 816.50,527.41 817.39,527.41 818.27,527.41 819.16,527.41 820.04,517.49 820.93,527.41 821.81,538.14 822.70,527.41 823.58,527.41 824.47,527.41 825.35,527.41 826.24,524.48 827.12,527.41 828.01,527.41 828.90,517.45 829.78,527.41 830.67,537.64 831.55,527.41 832.44,527.41 833.32,529.28 834.21,527.41 835.09,528.61 835.98,527.41 836.86,522.16 837.75,517.30 838.64,527.41 839.52,537.82 840.41,527.41 841.29,529.52 842.18,527.41 843.06,527.41 843.95,527.41 844.83,527.41 845.72,527.41 846.60,516.84 847.49,527.41 848.38,537.66 849.26,527.41 850.15,527.41 851.03,538.12 851.92,527.41 852.80,527.41 853.69,527.41 854.57,527.41 855.46,516.80 856.34,527.41 857.23,538.07 858.11,527.41 859.00,529.92 859.89,537.78 860.77,527.41 861.66,529.68 862.54,537.74 863.43,527.41 864.31,517.31 865.20,527.41 866.08,538.22 866.97,527.41 867.85,527.41 868.74,527.41 869.62,527.41 870.51,527.41 871.40,527.41 872.28,527.41 873.17,517.14 874.05,527.41 874.94,538.10 875.82,527.41 876.71,527.41 877.59,527.41 878.48,527.41 879.36,527.41 880.25,537.61 881.14,522.47 882.02,516.82 882.91,527.41 883.79,537.63 884.68,527.41 885.56,527.41 886.45,527.41 887.33,527.41 888.22,527.41 889.10,527.41 889.99,521.75 890.88,516.91 891.76,527.41 892.65,537.70 893.53,527.41 894.42,529.97 895.30,527.41 896.19,527.41 897.07,527.41 897.96,527.41 898.84,527.41 899.73,517.02 900.61,527.41 901.50,537.83 902.39,527.41 903.27,527.41 904.16,527.41 905.04,527.41 905.93,528.59 906.81,527.41 907.70,527.41 908.58,517.17 909.47,527.41 910.35,538.15 911.24,527.41 912.12,527.41 913.01,527.41 913.90,527.41 914.78,530.06 915.67,527.41 916.55,522.47 917.44,517.34 918.32,527.41 919.21,538.00 920.09,527.41 920.98,527.41 921.86,527.41 922.75,527.41 923.64,528.64 924.52,527.41 925.41,527.41 926.29,517.06 927.18,527.41 928.06,538.05 928.95,527.41 929.83,527.41 930.72,528.98 931.60,528.95 932.49,527.41 933.38,527.41 934.26,527.41 935.15,516.93 936.03,527.41 936.92,537.62 937.80,527.41 938.69,527.41 939.57,527.41 940.46,527.41 941.34,529.06 942.23,527.41 943.11,527.41 944.00,517.07 944.89,527.41 945.77,538.04 946.66,527.41 947.54,528.70 948.43,527.41 949.31,527.41 950.20,527.41 951.08,527.41 951.97,527.41 952.85,516.80 953.74,527.41 954.62,537.97 955.51,527.41 956.40,527.41 957.28,527.41 958.17,529.53 959.05,527.41 959.94,527.41 960.82,527.41 961.71,517.30 962.59,527.41 963.48,537.81 964.36,527.41 965.25,529.57 966.14,527.41 967.02,529.09 967.91,527.41 968.79,527.41 969.68,527.41 970.56,516.81 971.45,527.41 972.33,538.16 973.22,527.41 974.10,527.41 974.99,538.28 975.88,527.41 976.76,527.41 977.65,527.41 978.53,527.41 979.42,517.13 980.30,527.41 981.19,538.11 982.07,527.41 982.96,527.41 983.84,529.50 984.73,527.41 985.61,527.41 986.50,527.41 987.39,527.41 988.27,517.08 989.16,527.41 990.04,537.68 990.93,527.41 991.81,527.41 992.70,529.86 993.58,527.41 994.47,527.41 995.35,527.41 996.24,527.41 997.12,517.39 998.01,527.41 998.90,537.90 999.78,527.41 1000.67,527.41 1001.55,527.41 1002.44,537.61 1003.32,527.41 1004.21,519.83 1005.09,527.41 1005.98,517.45 1006.86,527.41 1007.75,537.82 1008.64,527.41 1009.52,523.77 1010.41,527.41 1011.29,527.41 1012.18,527.41 1013.06,527.41 1013.95,527.41 1014.83,516.80 1015.72,527.41 1016.60,537.67 1017.49,527.41 1018.38,527.41 1019.26,520.64 1020.15,529.11 1021.03,529.91 1021.92,527.41 1022.80,521.77 1023.69,517.13 1024.57,527.41 1025.46,538.29 1026.34,527.41 1027.23,527.41 1028.11,528.61 1029.00,527.41 1029.89,527.41 1030.77,527.41 1031.66,521.80 1032.54,517.47 1033.43,527.41 1034.31,537.92 1035.20,527.41 1036.08,527.41 1036.97,527.41 1037.85,528.88 1038.74,527.41 1039.62,527.41 1040.51,527.41 1041.40,517.09 1042.28,527.41 1043.17,538.00 1044.05,527.41 1044.94,527.41 1045.82,523.42 1046.71,527.41 1047.59,527.41 1048.48,527.41 1049.36,527.41 1050.25,517.36 1051.14,527.41 1052.02,538.29 1052.91,527.41 1053.79,527.41 1054.68,527.41 1055.56,527.41 1056.45,527.41 1057.33,529.80 1058.22,521.92 1059.10,517.06 1059.99,527.41 1060.88,537.62 1061.76,527.41 1062.65,527.41 1063.53,538.14 1064.42,538.27 1065.30,527.41 1066.19,527.41 1067.07,527.41 1067.96,516.83 1068.84,527.41 1069.73,538.07 1070.61,527.41 1071.50,527.41 1072.39,527.41 1073.27,530.02 1074.16,527.41 1075.04,527.41 1075.93,521.80 1076.81,517.33 1077.70,527.41 1078.58,537.81 1079.47,527.41 1080.35,527.41 1081.24,527.41 1082.12,538.18 1083.01,527.41 1083.90,527.41 1084.78,527.41 1085.67,517.12 1086.55,527.41 1087.44,538.26 1088.32,527.41 1089.21,527.41 1090.09,527.41 1090.98,529.58 1091.86,528.62 1092.75,527.41 1093.64,522.28 1094.52,517.35 1095.41,527.41 1096.29,537.99 1097.18,527.41 1098.06,527.41 1098.95,527.41 1099.83,529.19 1100.72,529.34 1101.60,527.41 1102.49,521.63 1103.38,517.33 1104.26,527.41 1105.15,538.02 1106.03,527.41 1106.92,527.41 1107.80,529.16 1108.69,527.41 1109.57,527.41 1110.46,527.41 1111.34,527.41 1112.23,517.34 1113.11,527.41 1114.00,538.15 1114.89,527.41 1115.77,527.41 1116.66,527.41 1117.54,527.41 1118.43,528.93 1119.31,527.41 1120.20,522.61 1121.08,516.84 1121.97,527.41 1122.85,537.70 1123.74,527.41 1124.62,527.41 1125.51,527.41 1126.40,527.41 1127.28,537.78 1128.17,527.41 1129.05,522.78 1129.94,517.41 1130.82,527.41 1131.71,538.24 1132.59,527.41 1133.48,527.41 1134.36,527.41 1135.25,527.41 1136.14,529.01 1137.02,538.20 1137.91,527.41 1138.79,517.04 1139.68,527.41 1140.56,537.73 1141.45,527.41 1142.33,527.41 1143.22,538.08 1144.10,537.95 1144.99,528.64 1145.88,527.41 1146.76,527.41 1147.65,517.15 1148.53,527.41 1149.42,537.65 1150.30,527.41 1151.19,527.41 1152.07,527.41 1152.96,527.41 1153.84,538.05 1154.73,528.81 1155.61,527.41 1156.50,516.80 1157.39,527.41 1158.27,538.09 1159.16,527.41 1160.04,527.41 1160.93,527.41 1161.81,527.41 1162.70,527.41 1163.58,527.41 1164.47,527.41 1165.35,517.31 1166.24,527.41 1167.12,537.86 1168.01,527.41 1168.90,528.96 1169.78,527.41 1170.67,527.41 1171.55,537.89 1172.44,529.31 1173.32,522.20 1174.21,516.92 1175.09,527.41 1175.98,537.77 1176.86,527.41 1177.75,527.41 1178.64,527.41 1179.52,527.41 1180.41,528.77 1181.29,527.41 1182.18,527.41 1183.06,517.40 1183.95,527.41 1184.83,537.97 1185.72,527.41 1186.60,529.87 1187.49,529.37 1188.38,537.71 1189.26,527.41 1190.15,527.41 1191.03,527.41 1191.92,517.38 1192.80,527.41 1193.69,538.10 1194.57,527.41 1195.46,527.41 1196.34,527.41 1197.23,527.41 1198.11,527.41 1199.00,529.74 1199.89,527.41 1200.77,516.90 1201.66,527.41 1202.54,537.63 1203.43,527.41 1204.31,527.41 1205.20,524.66 1206.08,527.41 1206.97,527.41 1207.85,527.41 1208.74,522.50 1209.62,517.49 1210.51,527.41 1211.40,538.27 1212.28,527.41 1213.17,527.41 1214.05,527.41 1214.94,538.28 1215.82,527.41 1216.71,537.86 1217.59,527.41 1218.48,516.97 1219.36,527.41 1220.25,538.10 1221.14,527.41 1222.02,527.41 1222.91,527.41 1223.79,527.41 1224.68,520.41 1225.56,527.41 1226.45,527.41 1227.33,517.25 1228.22,527.41 1229.10,537.62 1229.99,527.41 1230.88,527.41 1231.76,521.56 1232.65,527.41 1233.53,530.00 1234.42,527.41 1235.30,522.64 1236.19,516.95 1237.07,527.41 1237.96,538.19 1238.84,527.41 1239.73,527.41 1240.61,523.02 1241.50,527.41 1242.39,527.41 1243.27,527.41 1244.16,527.41 1245.04,517.07 1245.93,527.41 1246.81,537.64 1247.70,527.41 1248.58,527.41 1249.47,527.41 1250.35,527.41 1251.24,527.41 1252.12,527.41 1253.01,521.88 1253.90,516.89 1254.78,527.41 1255.67,537.79 1256.55,527.41 1257.44,538.28 1258.32,527.41 1259.21,527.41 1260.09,527.41 1260.98,527.41 1261.86,527.41 1262.75,517.07 1263.64,527.41 1264.52,537.91 1265.41,527.41 1266.29,527.41 1267.18,527.41 1268.06,527.41 1268.95,538.21 1269.83,527.41 1270.72,527.41 1271.60,516.83 1272.49,527.41 1273.38,538.09 1274.26,527.41 1275.15,527.41 1276.03,527.41 1276.92,527.41 1277.80,537.74 1278.69,529.70 1279.57,522.50 1280.46,517.36 1281.34,527.41 1282.23,538.24 1283.11,527.41 1284.00,527.41 1284.89,537.84 1285.77,527.41 1286.66,527.41 1287.54,527.41 1288.43,527.41 1289.31,517.29 1290.20,527.41 1291.08,537.97 1291.97,527.41 1292.85,527.41 1293.74,537.78 1294.62,527.41 1295.51,527.41 1296.40,527.41 1297.28,527.41 1298.17,516.96 1299.05,527.41 1299.94,538.09 1300.82,527.41 1301.71,527.41 1302.59,527.41 1303.48,527.41 1304.36,527.41 1305.25,537.62 1306.14,527.41 1307.02,517.15 1307.91,527.41 1308.79,537.59 1309.68,527.41 1310.56,527.41 1311.45,527.41 1312.33,530.04 1313.22,527.41 1314.10,527.41 1314.99,527.41 1315.88,516.95 1316.76,527.41 1317.65,537.99 1318.53,527.41 1319.42,527.41 1320.30,527.41 1321.19,527.41 1322.07,527.41 1322.96,527.41 1323.84,527.41 1324.73,517.43 1325.61,527.41 1326.50,537.82 1327.39,527.41 1328.27,527.41 1329.16,527.41 1330.04,527.41 1330.93,527.41 1331.81,537.93 1332.70,527.41 1333.58,517.38 1334.47,527.41 1335.35,537.67 1336.24,527.41 1337.12,537.79 1338.01,537.93 1338.90,527.41 1339.78,528.66 1340.67,528.46 1341.55,527.41 1342.44,517.18 1343.32,527.41 1344.21,537.85 1345.09,527.41 1345.98,527.41 1346.86,538.04 1347.75,527.41 1348.64,527.41 1349.52,529.18 1350.41,527.41 1351.29,517.11 1352.18,527.41 1353.06,537.74 1353.95,527.41 1354.83,527.41 1355.72,527.41 1356.60,527.41 1357.49,527.41 1358.38,522.07 1359.26,527.41 1360.15,517.46 1361.03,527.41 1361.92,537.84 1362.80,527.41 1363.69,527.41 1364.57,527.41 1365.46,538.13 1366.34,527.41 1367.23,527.41 1368.11,527.41" fill="none" stroke="#56b4e9" stroke-width="1"/>
<polyline points="94.00,517.31 94.89,527.41 95.77,537.86 96.66,527.41 97.54,527.41 98.43,527.41 99.31,527.41 100.20,537.61 101.08,527.41 101.97,527.41 102.85,517.32 103.74,527.41 104.62,537.79 105.51,527.41 106.40,527.41 107.28,527.41 108.17,520.45 109.05,520.40 109.94,527.41 110.82,527.41 111.71,517.09 112.59,527.41 113.48,537.93 114.36,527.41 115.25,527.41 116.14,527.41 117.02,527.41 117.91,527.41 118.79,528.44 119.68,522.71 120.56,516.92 121.45,527.41 122.33,538.10 123.22,527.41 124.10,529.78 124.99,527.41 125.88,527.41 126.76,529.80 127.65,529.98 128.53,527.41 129.42,517.15 130.30,527.41 131.19,537.61 132.07,527.41 132.96,527.41 133.84,527.41 134.73,527.41 135.61,527.41 136.50,527.41 137.39,522.26 138.27,517.16 139.16,527.41 140.04,538.22 140.93,527.41 141.81,527.41 142.70,527.41" fill="none" stroke="#56b4e9" stroke-width="1"/>
<rect x="536" y="481" width="13" height="13" fill="#f0e442"/>
<rect x="965" y="481" width="13" height="13" fill="#f0e442"/>
<path d="M96 516h1v1h-1zM93 517h7v1h-7zM92 518h2v1h-2zM99 518h2v1h-2zM91 519h2v1h-2zM100 519h2v1h-2zM91 520h1v1h-1zM91 521h1v1h-1zM91 522h1v1h-1zM91 523h1v1h-1zM91 524h1v1h-1zM101 520h1v1h-1zM101 521h1v1h-1zM101 522h1v1h-1zM101 523h1v1h-1zM101 524h1v1h-1zM91 525h2v1h-2zM100 525h2v1h-2zM92 526h2v1h-2zM99 526h2v1h-2zM93 527h7v1h-7zM96 528h1v1h-1zM90 522h1v1h-1zM102 522h1v1h-1z" fill="#0072b2"/>
<path d="M143 516h1v1h-1zM140 517h7v1h-7zM139 518h2v1h-2zM146 518h2v1h-2zM138 519h2v1h-2zM147 519h2v1h-2zM138 520h1v1h-1zM138 521h1v1h-1zM138 522h1v1h-1zM138 523h1v1h-1zM138 524h1v1h-1zM148 520h1v1h-1zM148 521h1v1h-1zM148 522h1v1h-1zM148 523h1v1h-1zM148 524h1v1h-1zM138 525h2v1h-2zM147 525h2v1h-2zM139 526h2v1h-2zM146 526h2v1h-2zM140 527h7v1h-7zM143 528h1v1h-1zM137 522h1v1h-1zM149 522h1v1h-1z" fill="#0072b2"/>
<path d="M202 515h1v1h-1zM199 516h7v1h-7zM198 517h2v1h-2zM205 517h2v1h-2zM197 518h2v1h-2zM206 518h2v1h-2zM197 519h1v1h-1zM197 520h1v1h-1zM197 521h1v1h-1zM197 522h1v1h-1zM197 523h1v1h-1zM207 519h1v1h-1zM207 520h1v1h-1zM207 521h1v1h-1zM207 522h1v1h-1zM207 523h1v1h-1zM197 524h2v1h-2zM206 524h2v1h-2zM198 525h2v1h-2zM205 525h2v1h-2zM199 526h7v1h-7zM202 527h1v1h-1zM196 521h1v1h-1zM208 521h1v1h-1z" fill="#0072b2"/>
<path d="M1365 516h1v1h-1zM1362 517h7v1h-7zM1361 518h2v1h-2zM1368 518h2v1h-2zM1360 519h2v1h-2zM1369 519h2v1h-2zM1360 520h1v1h-1zM1360 521h1v1h-1zM1360 522h1v1h-1zM1360 523h1v1h-1zM1360 524h1v1h-1zM1370 520h1v1h-1zM1370 521h1v1h-1zM1370 522h1v1h-1zM1370 523h1v1h-1zM1370 524h1v1h-1zM1360 525h2v1h-2zM1369 525h2v1h-2zM1361 526h2v1h-2zM1368 526h2v1h-2zM1362 527h7v1h-7zM1365 528h1v1h-1zM1359 522h1v1h-1zM1371 522h1v1h-1z" fill="#0072b2"/>
<path d="M627 497h1v1h-1zM624 498h7v1h-7zM623 499h2v1h-2zM630 499h2v1h-2zM622 500h2v1h-2zM631 500h2v1h-2zM622 501h1v1h-1zM622 502h1v1h-1zM622 503h1v1h-1zM622 504h1v1h-1zM622 505h1v1h-1zM632 501h1v1h-1zM632 502h1v1h-1zM632 503h1v1h-1zM632 504h1v1h-1zM632 505h1v1h-1zM622 506h2v1h-2zM631 506h2v1h-2zM623 507h2v1h-2zM630 507h2v1h-2zM624 508h7v1h-7zM627 509h1v1h-1zM621 503h1v1h-1zM633 503h1v1h-1z" fill="#0072b2"/>
<path d="M249 514h1v1h-1zM246 515h7v1h-7zM245 516h2v1h-2zM252 516h2v1h-2zM244 517h2v1h-2zM253 517h2v1h-2zM244 518h1v1h-1zM244 519h1v1h-1zM244 520h1v1h-1zM244 521h1v1h-1zM244 522h1v1h-1zM254 518h1v1h-1zM254 519h1v1h-1zM254 520h1v1h-1zM254 521h1v1h-1zM254 522h1v1h-1zM244 523h2v1h-2zM253 523h2v1h-2zM245 524h2v1h-2zM252 524h2v1h-2zM246 525h7v1h-7zM249 526h1v1h-1zM243 520h1v1h-1zM255 520h1v1h-1z" fill="#0072b2"/>
<path d="M255 518h1v1h-1zM252 519h7v1h-7zM251 520h2v1h-2zM258 520h2v1h-2zM250 521h2v1h-2zM259 521h2v1h-2zM250 522h1v1h-1zM250 523h1v1h-1zM250 524h1v1h-1zM250 525h1v1h-1zM250 526h1v1h-1zM260 522h1v1h-1zM260 523h1v1h-1zM260 524h1v1h-1zM260 525h1v1h-1zM260 526h1v1h-1zM250 527h2v1h-2zM259 527h2v1h-2zM251 528h2v1h-2zM258 528h2v1h-2zM252 529h7v1h-7zM255 530h1v1h-1zM249 524h1v1h-1zM261 524h1v1h-1z" fill="#0072b2"/>
<path d="M302 515h1v1h-1zM299 516h7v1h-7zM298 517h2v1h-2zM305 517h2v1h-2zM297 518h2v1h-2zM306 518h2v1h-2zM297 519h1v1h-1zM297 520h1v1h-1zM297 521h1v1h-1zM297 522h1v1h-1zM297 523h1v1h-1zM307 519h1v1h-1zM307 520h1v1h-1zM307 521h1v1h-1zM307 522h1v1h-1zM307 523h1v1h-1zM297 524h2v1h-2zM306 524h2v1h-2zM298 525h2v1h-2zM305 525h2v1h-2zM299 526h7v1h-7zM302 527h1v1h-1zM296 521h1v1h-1zM308 521h1v1h-1z" fill="#0072b2"/>
<path d="M308 517h1v1h-1zM305 518h7v1h-7zM304 519h2v1h-2zM311 519h2v1h-2zM303 520h2v1h-2zM312 520h2v1h-2zM303 521h1v1h-1zM303 522h1v1h-1zM303 523h1v1h-1zM303 524h1v1h-1zM303 525h1v1h-1zM313 521h1v1h-1zM313 522h1v1h-1zM313 523h1v1h-1zM313 524h1v1h-1zM313 525h1v1h-1zM303 526h2v1h-2zM312 526h2v1h-2zM304 527h2v1h-2zM311 527h2v1h-2zM305 528h7v1h-7zM308 529h1v1h-1zM302 523h1v1h-1zM314 523h1v1h-1z" fill="#0072b2"/>
<path d="M355 514h1v1h-1zM352 515h7v1h-7zM351 516h2v1h-2zM358 516h2v1h-2zM350 517h2v1h-2zM359 517h2v1h-2zM350 518h1v1h-1zM350 519h1v1h-1zM350 520h1v1h-1zM350 521h1v1h-1zM350 522h1v1h-1zM360 518h1v1h-1zM360 519h1v1h-1zM360 520h1v1h-1zM360 521h1v1h-1zM360 522h1v1h-1zM350 523h2v1h-2zM359 523h2v1h-2zM351 524h2v1h-2zM358 524h2v1h-2zM352 525h7v1h-7zM355 526h1v1h-1zM349 520h1v1h-1zM361 520h1v1h-1z" fill="#0072b2"/>
<path d="M361 515h1v1h-1zM358 516h7v1h-7zM357 517h2v1h-2zM364 517h2v1h-2zM356 518h2v1h-2zM365 518h2v1h-2zM356 519h1v1h-1zM356 520h1v1h-1zM356 521h1v1h-1zM356 522h1v1h-1zM356 523h1v1h-1zM366 519h1v1h-1zM366 520h1v1h-1zM366 521h1v1h-1zM366 522h1v1h-1zM366 523h1v1h-1zM356 524h2v1h-2zM365 524h2v1h-2zM357 525h2v1h-2zM364 525h2v1h-2zM358 526h7v1h-7zM361 527h1v1h-1zM355 521h1v1h-1zM367 521h1v1h-1z" fill="#0072b2"/>
<path d="M409 515h1v1h-1zM406 516h7v1h-7zM405 517h2v1h-2zM412 517h2v1h-2zM404 518h2v1h-2zM413 518h2v1h-2zM404 519h1v1h-1zM404 520h1v1h-1zM404 521h1v1h-1zM404 522h1v1h-1zM404 523h1v1h-1zM414 519h1v1h-1zM414 520h1v1h-1zM414 521h1v1h-1zM414 522h1v1h-1zM414 523h1v1h-1zM404 524h2v1h-2zM413 524h2v1h-2zM405 525h2v1h-2zM412 525h2v1h-2zM406 526h7v1h-7zM409 527h1v1h-1zM403 521h1v1h-1zM415 521h1v1h-1z" fill="#0072b2"/>
<path d="M415 516h1v1h-1zM412 517h7v1h-7zM411 518h2v1h-2zM418 518h2v1h-2zM410 519h2v1h-2zM419 519h2v1h-2zM410 520h1v1h-1zM410 521h1v1h-1zM410 522h1v1h-1zM410 523h1v1h-1zM410 524h1v1h-1zM420 520h1v1h-1zM420 521h1v1h-1zM420 522h1v1h-1zM420 523h1v1h-1zM420 524h1v1h-1zM410 525h2v1h-2zM419 525h2v1h-2zM411 526h2v1h-2zM418 526h2v1h-2zM412 527h7v1h-7zM415 528h1v1h-1zM409 522h1v1h-1zM421 522h1v1h-1z" fill="#0072b2"/>
<path d="M462 515h1v1h-1zM459 516h7v1h-7zM458 517h2v1h-2zM465 517h2v1h-2zM457 518h2v1h-2zM466 518h2v1h-2zM457 519h1v1h-1zM457 520h1v1h-1zM457 521h1v1h-1zM457 522h1v1h-1zM457 523h1v1h-1zM467 519h1v1h-1zM467 520h1v1h-1zM467 521h1v1h-1zM467 522h1v1h-1zM467 523h1v1h-1zM457 524h2v1h-2zM466 524h2v1h-2zM458 525h2v1h-2zM465 525h2v1h-2zM459 526h7v1h-7zM462 527h1v1h-1zM456 521h1v1h-1zM468 521h1v1h-1z" fill="#0072b2"/>
<path d="M468 517h1v1h-1zM465 518h7v1h-7zM464 519h2v1h-2zM471 519h2v1h-2zM463 520h2v1h-2zM472 520h2v1h-2zM463 521h1v1h-1zM463 522h1v1h-1zM463 523h1v1h-1zM463 524h1v1h-1zM463 525h1v1h-1zM473 521h1v1h-1zM473 522h1v1h-1zM473 523h1v1h-1zM473 524h1v1h-1zM473 525h1v1h-1zM463 526h2v1h-2zM472 526h2v1h-2zM464 527h2v1h-2zM471 527h2v1h-2zM465 528h7v1h-7zM468 529h1v1h-1zM462 523h1v1h-1zM474 523h1v1h-1z" fill="#0072b2"/>
<path d="M515 515h1v1h-1zM512 516h7v1h-7zM511 517h2v1h-2zM518 517h2v1h-2zM510 518h2v1h-2zM519 518h2v1h-2zM510 519h1v1h-1zM510 520h1v1h-1zM510 521h1v1h-1zM510 522h1v1h-1zM510 523h1v1h-1zM520 519h1v1h-1zM520 520h1v1h-1zM520 521h1v1h-1zM520 522h1v1h-1zM520 523h1v1h-1zM510 524h2v1h-2zM519 524h2v1h-2zM511 525h2v1h-2zM518 525h2v1h-2zM512 526h7v1h-7zM515 527h1v1h-1zM509 521h1v1h-1zM521 521h1v1h-1z" fill="#0072b2"/>
<path d="M521 513h1v1h-1zM518 514h7v1h-7zM517 515h2v1h-2zM524 515h2v1h-2zM516 516h2v1h-2zM525 516h2v1h-2zM516 517h1v1h-1zM516 518h1v1h-1zM516 519h1v1h-1zM516 520h1v1h-1zM516 521h1v1h-1zM526 517h1v1h-1zM526 518h1v1h-1zM526 519h1v1h-1zM526 520h1v1h-1zM526 521h1v1h-1zM516 522h2v1h-2zM525 522h2v1h-2zM517 523h2v1h-2zM524 523h2v1h-2zM518 524h7v1h-7zM521 525h1v1h-1zM515 519h1v1h-1zM527 519h1v1h-1z" fill="#0072b2"/>
<path d="M568 515h1v1h-1zM565 516h7v1h-7zM564 517h2v1h-2zM571 517h2v1h-2zM563 518h2v1h-2zM572 518h2v1h-2zM563 519h1v1h-1zM563 520h1v1h-1zM563 521h1v1h-1zM563 522h1v1h-1zM563 523h1v1h-1zM573 519h1v1h-1zM573 520h1v1h-1zM573 521h1v1h-1zM573 522h1v1h-1zM573 523h1v1h-1zM563 524h2v1h-2zM572 524h2v1h-2zM564 525h2v1h-2zM571 525h2v1h-2zM565 526h7v1h-7zM568 527h1v1h-1zM562 521h1v1h-1zM574 521h1v1h-1z" fill="#0072b2"/>
<path d="M574 517h1v1h-1zM571 518h7v1h-7zM570 519h2v1h-2zM577 519h2v1h-2zM569 520h2v1h-2zM578 520h2v1h-2zM569 521h1v1h-1zM569 522h1v1h-1zM569 523h1v1h-1zM569 524h1v1h-1zM569 525h1v1h-1zM579 521h1v1h-1zM579 522h1v1h-1zM579 523h1v1h-1zM579 524h1v1h-1zM579 525h1v1h-1zM569 526h2v1h-2zM578 526h2v1h-2zM570 527h2v1h-2zM577 527h2v1h-2zM571 528h7v1h-7zM574 529h1v1h-1zM568 523h1v1h-1zM580 523h1v1h-1z" fill="#0072b2"/>
<path d="M621 517h1v1h-1zM618 518h7v1h-7zM617 519h2v1h-2zM624 519h2v1h-2zM616 520h2v1h-2zM625 520h2v1h-2zM616 521h1v1h-1zM616 522h1v1h-1zM616 523h1v1h-1zM616 524h1v1h-1zM616 525h1v1h-1zM626 521h1v1h-1zM626 522h1v1h-1zM626 523h1v1h-1zM626 524h1v1h-1zM626 525h1v1h-1zM616 526h2v1h-2zM625 526h2v1h-2zM617 527h2v1h-2zM624 527h2v1h-2zM618 528h7v1h-7zM621 529h1v1h-1zM615 523h1v1h-1zM627 523h1v1h-1z" fill="#0072b2"/>
<path d="M674 515h1v1h-1zM671 516h7v1h-7zM670 517h2v1h-2zM677 517h2v1h-2zM669 518h2v1h-2zM678 518h2v1h-2zM669 519h1v1h-1zM669 520h1v1h-1zM669 521h1v1h-1zM669 522h1v1h-1zM669 523h1v1h-1zM679 519h1v1h-1zM679 520h1v1h-1zM679 521h1v1h-1zM679 522h1v1h-1zM679 523h1v1h-1zM669 524h2v1h-2zM678 524h2v1h-2zM670 525h2v1h-2zM677 525h2v1h-2zM671 526h7v1h-7zM674 527h1v1h-1zM668 521h1v1h-1zM680 521h1v1h-1z" fill="#0072b2"/>
<path d="M680 517h1v1h-1zM677 518h7v1h-7zM676 519h2v1h-2zM683 519h2v1h-2zM675 520h2v1h-2zM684 520h2v1h-2zM675 521h1v1h-1zM675 522h1v1h-1zM675 523h1v1h-1zM675 524h1v1h-1zM675 525h1v1h-1zM685 521h1v1h-1zM685 522h1v1h-1zM685 523h1v1h-1zM685 524h1v1h-1zM685 525h1v1h-1zM675 526h2v1h-2zM684 526h2v1h-2zM676 527h2v1h-2zM683 527h2v1h-2zM677 528h7v1h-7zM680 529h1v1h-1zM674 523h1v1h-1zM686 523h1v1h-1z" fill="#0072b2"/>
<path d="M727 515h1v1h-1zM724 516h7v1h-7zM723 517h2v1h-2zM730 517h2v1h-2zM722 518h2v1h-2zM731 518h2v1h-2zM722 519h1v1h-1zM722 520h1v1h-1zM722 521h1v1h-1zM722 522h1v1h-1zM722 523h1v1h-1zM732 519h1v1h-1zM732 520h1v1h-1zM732 521h1v1h-1zM732 522h1v1h-1zM732 523h1v1h-1zM722 524h2v1h-2zM731 524h2v1h-2zM723 525h2v1h-2zM730 525h2v1h-2zM724 526h7v1h-7zM727 527h1v1h-1zM721 521h1v1h-1zM733 521h1v1h-1z" fill="#0072b2"/>
<path d="M733 517h1v1h-1zM730 518h7v1h-7zM729 519h2v1h-2zM736 519h2v1h-2zM728 520h2v1h-2zM737 520h2v1h-2zM728 521h1v1h-1zM728 522h1v1h-1zM728 523h1v1h-1zM728 524h1v1h-1zM728 525h1v1h-1zM738 521h1v1h-1zM738 522h1v1h-1zM738 523h1v1h-1zM738 524h1v1h-1zM738 525h1v1h-1zM728 526h2v1h-2zM737 526h2v1h-2zM729 527h2v1h-2zM736 527h2v1h-2zM730 528h7v1h-7zM733 529h1v1h-1zM727 523h1v1h-1zM739 523h1v1h-1z" fill="#0072b2"/>
<path d="M780 515h1v1h-1zM777 516h7v1h-7zM776 517h2v1h-2zM783 517h2v1h-2zM775 518h2v1h-2zM784 518h2v1h-2zM775 519h1v1h-1zM775 520h1v1h-1zM775 521h1v1h-1zM775 522h1v1h-1zM775 523h1v1h-1zM785 519h1v1h-1zM785 520h1v1h-1zM785 521h1v1h-1zM785 522h1v1h-1zM785 523h1v1h-1zM775 524h2v1h-2zM784 524h2v1h-2zM776 525h2v1h-2zM783 525h2v1h-2zM777 526h7v1h-7zM780 527h1v1h-1zM774 521h1v1h-1zM786 521h1v1h-1z" fill="#0072b2"/>
<path d="M786 517h1v1h-1zM783 518h7v1h-7zM782 519h2v1h-2zM789 519h2v1h-2zM781 520h2v1h-2zM790 520h2v1h-2zM781 521h1v1h-1zM781 522h1v1h-1zM781 523h1v1h-1zM781 524h1v1h-1zM781 525h1v1h-1zM791 521h1v1h-1zM791 522h1v1h-1zM791 523h1v1h-1zM791 524h1v1h-1zM791 525h1v1h-1zM781 526h2v1h-2zM790 526h2v1h-2zM782 527h2v1h-2zM789 527h2v1h-2zM783 528h7v1h-7zM786 529h1v1h-1zM780 523h1v1h-1zM792 523h1v1h-1z" fill="#0072b2"/>
<path d="M834 516h1v1h-1zM831 517h7v1h-7zM830 518h2v1h-2zM837 518h2v1h-2zM829 519h2v1h-2zM838 519h2v1h-2zM829 520h1v1h-1zM829 521h1v1h-1zM829 522h1v1h-1zM829 523h1v1h-1zM829 524h1v1h-1zM839 520h1v1h-1zM839 521h1v1h-1zM839 522h1v1h-1zM839 523h1v1h-1zM839 524h1v1h-1zM829 525h2v1h-2zM838 525h2v1h-2zM830 526h2v1h-2zM837 526h2v1h-2zM831 527h7v1h-7zM834 528h1v1h-1zM828 522h1v1h-1zM840 522h1v1h-1z" fill="#0072b2"/>
<path d="M840 517h1v1h-1zM837 518h7v1h-7zM836 519h2v1h-2zM843 519h2v1h-2zM835 520h2v1h-2zM844 520h2v1h-2zM835 521h1v1h-1zM835 522h1v1h-1zM835 523h1v1h-1zM835 524h1v1h-1zM835 525h1v1h-1zM845 521h1v1h-1zM845 522h1v1h-1zM845 523h1v1h-1zM845 524h1v1h-1zM845 525h1v1h-1zM835 526h2v1h-2zM844 526h2v1h-2zM836 527h2v1h-2zM843 527h2v1h-2zM837 528h7v1h-7zM840 529h1v1h-1zM834 523h1v1h-1zM846 523h1v1h-1z" fill="#0072b2"/>
<path d="M887 514h1v1h-1zM884 515h7v1h-7zM883 516h2v1h-2zM890 516h2v1h-2zM882 517h2v1h-2zM891 517h2v1h-2zM882 518h1v1h-1zM882 519h1v1h-1zM882 520h1v1h-1zM882 521h1v1h-1zM882 522h1v1h-1zM892 518h1v1h-1zM892 519h1v1h-1zM892 520h1v1h-1zM892 521h1v1h-1zM892 522h1v1h-1zM882 523h2v1h-2zM891 523h2v1h-2zM883 524h2v1h-2zM890 524h2v1h-2zM884 525h7v1h-7zM887 526h1v1h-1zM881 520h1v1h-1zM893 520h1v1h-1z" fill="#0072b2"/>
<path d="M893 517h1v1h-1zM890 518h7v1h-7zM889 519h2v1h-2zM896 519h2v1h-2zM888 520h2v1h-2zM897 520h2v1h-2zM888 521h1v1h-1zM888 522h1v1h-1zM888 523h1v1h-1zM888 524h1v1h-1zM888 525h1v1h-1zM898 521h1v1h-1zM898 522h1v1h-1zM898 523h1v1h-1zM898 524h1v1h-1zM898 525h1v1h-1zM888 526h2v1h-2zM897 526h2v1h-2zM889 527h2v1h-2zM896 527h2v1h-2zM890 528h7v1h-7zM893 529h1v1h-1zM887 523h1v1h-1zM899 523h1v1h-1z" fill="#0072b2"/>
<path d="M940 512h1v1h-1zM937 513h7v1h-7zM936 514h2v1h-2zM943 514h2v1h-2zM935 515h2v1h-2zM944 515h2v1h-2zM935 516h1v1h-1zM935 517h1v1h-1zM935 518h1v1h-1zM935 519h1v1h-1zM935 520h1v1h-1zM945 516h1v1h-1zM945 517h1v1h-1zM945 518h1v1h-1zM945 519h1v1h-1zM945 520h1v1h-1zM935 521h2v1h-2zM944 521h2v1h-2zM936 522h2v1h-2zM943 522h2v1h-2zM937 523h7v1h-7zM940 524h1v1h-1zM934 518h1v1h-1zM946 518h1v1h-1z" fill="#0072b2"/>
<path d="M946 516h1v1h-1zM943 517h7v1h-7zM942 518h2v1h-2zM949 518h2v1h-2zM941 519h2v1h-2zM950 519h2v1h-2zM941 520h1v1h-1zM941 521h1v1h-1zM941 522h1v1h-1zM941 523h1v1h-1zM941 524h1v1h-1zM951 520h1v1h-1zM951 521h1v1h-1zM951 522h1v1h-1zM951 523h1v1h-1zM951 524h1v1h-1zM941 525h2v1h-2zM950 525h2v1h-2zM942 526h2v1h-2zM949 526h2v1h-2zM943 527h7v1h-7zM946 528h1v1h-1zM940 522h1v1h-1zM952 522h1v1h-1z" fill="#0072b2"/>
<path d="M993 515h1v1h-1zM990 516h7v1h-7zM989 517h2v1h-2zM996 517h2v1h-2zM988 518h2v1h-2zM997 518h2v1h-2zM988 519h1v1h-1zM988 520h1v1h-1zM988 521h1v1h-1zM988 522h1v1h-1zM988 523h1v1h-1zM998 519h1v1h-1zM998 520h1v1h-1zM998 521h1v1h-1zM998 522h1v1h-1zM998 523h1v1h-1zM988 524h2v1h-2zM997 524h2v1h-2zM989 525h2v1h-2zM996 525h2v1h-2zM990 526h7v1h-7zM993 527h1v1h-1zM987 521h1v1h-1zM999 521h1v1h-1z" fill="#0072b2"/>
<path d="M999 515h1v1h-1zM996 516h7v1h-7zM995 517h2v1h-2zM1002 517h2v1h-2zM994 518h2v1h-2zM1003 518h2v1h-2zM994 519h1v1h-1zM994 520h1v1h-1zM994 521h1v1h-1zM994 522h1v1h-1zM994 523h1v1h-1zM1004 519h1v1h-1zM1004 520h1v1h-1zM1004 521h1v1h-1zM1004 522h1v1h-1zM1004 523h1v1h-1zM994 524h2v1h-2zM1003 524h2v1h-2zM995 525h2v1h-2zM1002 525h2v1h-2zM996 526h7v1h-7zM999 527h1v1h-1zM993 521h1v1h-1zM1005 521h1v1h-1z" fill="#0072b2"/>
<path d="M1046 516h1v1h-1zM1043 517h7v1h-7zM1042 518h2v1h-2zM1049 518h2v1h-2zM1041 519h2v1h-2zM1050 519h2v1h-2zM1041 520h1v1h-1zM1041 521h1v1h-1zM1041 522h1v1h-1zM1041 523h1v1h-1zM1041 524h1v1h-1zM1051 520h1v1h-1zM1051 521h1v1h-1zM1051 522h1v1h-1zM1051 523h1v1h-1zM1051 524h1v1h-1zM1041 525h2v1h-2zM1050 525h2v1h-2zM1042 526h2v1h-2zM1049 526h2v1h-2zM1043 527h7v1h-7zM1046 528h1v1h-1zM1040 522h1v1h-1zM1052 522h1v1h-1z" fill="#0072b2"/>
<path d="M1052 517h1v1h-1zM1049 518h7v1h-7zM1048 519h2v1h-2zM1055 519h2v1h-2zM1047 520h2v1h-2zM1056 520h2v1h-2zM1047 521h1v1h-1zM1047 522h1v1h-1zM1047 523h1v1h-1zM1047 524h1v1h-1zM1047 525h1v1h-1zM1057 521h1v1h-1zM1057 522h1v1h-1zM1057 523h1v1h-1zM1057 524h1v1h-1zM1057 525h1v1h-1zM1047 526h2v1h-2zM1056 526h2v1h-2zM1048 527h2v1h-2zM1055 527h2v1h-2zM1049 528h7v1h-7zM1052 529h1v1h-1zM1046 523h1v1h-1zM1058 523h1v1h-1z" fill="#0072b2"/>
<path d="M1099 515h1v1h-1zM1096 516h7v1h-7zM1095 517h2v1h-2zM1102 517h2v1h-2zM1094 518h2v1h-2zM1103 518h2v1h-2zM1094 519h1v1h-1zM1094 520h1v1h-1zM1094 521h1v1h-1zM1094 522h1v1h-1zM1094 523h1v1h-1zM1104 519h1v1h-1zM1104 520h1v1h-1zM1104 521h1v1h-1zM1104 522h1v1h-1zM1104 523h1v1h-1zM1094 524h2v1h-2zM1103 524h2v1h-2zM1095 525h2v1h-2zM1102 525h2v1h-2zM1096 526h7v1h-7zM1099 527h1v1h-1zM1093 521h1v1h-1zM1105 521h1v1h-1z" fill="#0072b2"/>
<path d="M1105 517h1v1h-1zM1102 518h7v1h-7zM1101 519h2v1h-2zM1108 519h2v1h-2zM1100 520h2v1h-2zM1109 520h2v1h-2zM1100 521h1v1h-1zM1100 522h1v1h-1zM1100 523h1v1h-1zM1100 524h1v1h-1zM1100 525h1v1h-1zM1110 521h1v1h-1zM1110 522h1v1h-1zM1110 523h1v1h-1zM1110 524h1v1h-1zM1110 525h1v1h-1zM1100 526h2v1h-2zM1109 526h2v1h-2zM1101 527h2v1h-2zM1108 527h2v1h-2zM1102 528h7v1h-7zM1105 529h1v1h-1zM1099 523h1v1h-1zM1111 523h1v1h-1z" fill="#0072b2"/>
<path d="M1152 515h1v1h-1zM1149 516h7v1h-7zM1148 517h2v1h-2zM1155 517h2v1h-2zM1147 518h2v1h-2zM1156 518h2v1h-2zM1147 519h1v1h-1zM1147 520h1v1h-1zM1147 521h1v1h-1zM1147 522h1v1h-1zM1147 523h1v1h-1zM1157 519h1v1h-1zM1157 520h1v1h-1zM1157 521h1v1h-1zM1157 522h1v1h-1zM1157 523h1v1h-1zM1147 524h2v1h-2zM1156 524h2v1h-2zM1148 525h2v1h-2zM1155 525h2v1h-2zM1149 526h7v1h-7zM1152 527h1v1h-1zM1146 521h1v1h-1zM1158 521h1v1h-1z" fill="#0072b2"/>
<path d="M1158 517h1v1h-1zM1155 518h7v1h-7zM1154 519h2v1h-2zM1161 519h2v1h-2zM1153 520h2v1h-2zM1162 520h2v1h-2zM1153 521h1v1h-1zM1153 522h1v1h-1zM1153 523h1v1h-1zM1153 524h1v1h-1zM1153 525h1v1h-1zM1163 521h1v1h-1zM1163 522h1v1h-1zM1163 523h1v1h-1zM1163 524h1v1h-1zM1163 525h1v1h-1zM1153 526h2v1h-2zM1162 526h2v1h-2zM1154 527h2v1h-2zM1161 527h2v1h-2zM1155 528h7v1h-7zM1158 529h1v1h-1zM1152 523h1v1h-1zM1164 523h1v1h-1z" fill="#0072b2"/>
<path d="M1205 516h1v1h-1zM1202 517h7v1h-7zM1201 518h2v1h-2zM1208 518h2v1h-2zM1200 519h2v1h-2zM1209 519h2v1h-2zM1200 520h1v1h-1zM1200 521h1v1h-1zM1200 522h1v1h-1zM1200 523h1v1h-1zM1200 524h1v1h-1zM1210 520h1v1h-1zM1210 521h1v1h-1zM1210 522h1v1h-1zM1210 523h1v1h-1zM1210 524h1v1h-1zM1200 525h2v1h-2zM1209 525h2v1h-2zM1201 526h2v1h-2zM1208 526h2v1h-2zM1202 527h7v1h-7zM1205 528h1v1h-1zM1199 522h1v1h-1zM1211 522h1v1h-1z" fill="#0072b2"/>
<path d="M1211 517h1v1h-1zM1208 518h7v1h-7zM1207 519h2v1h-2zM1214 519h2v1h-2zM1206 520h2v1h-2zM1215 520h2v1h-2zM1206 521h1v1h-1zM1206 522h1v1h-1zM1206 523h1v1h-1zM1206 524h1v1h-1zM1206 525h1v1h-1zM1216 521h1v1h-1zM1216 522h1v1h-1zM1216 523h1v1h-1zM1216 524h1v1h-1zM1216 525h1v1h-1zM1206 526h2v1h-2zM1215 526h2v1h-2zM1207 527h2v1h-2zM1214 527h2v1h-2zM1208 528h7v1h-7zM1211 529h1v1h-1zM1205 523h1v1h-1zM1217 523h1v1h-1z" fill="#0072b2"/>
<path d="M1259 514h1v1h-1zM1256 515h7v1h-7zM1255 516h2v1h-2zM1262 516h2v1h-2zM1254 517h2v1h-2zM1263 517h2v1h-2zM1254 518h1v1h-1zM1254 519h1v1h-1zM1254 520h1v1h-1zM1254 521h1v1h-1zM1254 522h1v1h-1zM1264 518h1v1h-1zM1264 519h1v1h-1zM1264 520h1v1h-1zM1264 521h1v1h-1zM1264 522h1v1h-1zM1254 523h2v1h-2zM1263 523h2v1h-2zM1255 524h2v1h-2zM1262 524h2v1h-2zM1256 525h7v1h-7zM1259 526h1v1h-1zM1253 520h1v1h-1zM1265 520h1v1h-1z" fill="#0072b2"/>
<path d="M1265 516h1v1h-1zM1262 517h7v1h-7zM1261 518h2v1h-2zM1268 518h2v1h-2zM1260 519h2v1h-2zM1269 519h2v1h-2zM1260 520h1v1h-1zM1260 521h1v1h-1zM1260 522h1v1h-1zM1260 523h1v1h-1zM1260 524h1v1h-1zM1270 520h1v1h-1zM1270 521h1v1h-1zM1270 522h1v1h-1zM1270 523h1v1h-1zM1270 524h1v1h-1zM1260 525h2v1h-2zM1269 525h2v1h-2zM1261 526h2v1h-2zM1268 526h2v1h-2zM1262 527h7v1h-7zM1265 528h1v1h-1zM1259 522h1v1h-1zM1271 522h1v1h-1z" fill="#0072b2"/>
<path d="M1312 513h1v1h-1zM1309 514h7v1h-7zM1308 515h2v1h-2zM1315 515h2v1h-2zM1307 516h2v1h-2zM1316 516h2v1h-2zM1307 517h1v1h-1zM1307 518h1v1h-1zM1307 519h1v1h-1zM1307 520h1v1h-1zM1307 521h1v1h-1zM1317 517h1v1h-1zM1317 518h1v1h-1zM1317 519h1v1h-1zM1317 520h1v1h-1zM1317 521h1v1h-1zM1307 522h2v1h-2zM1316 522h2v1h-2zM1308 523h2v1h-2zM1315 523h2v1h-2zM1309 524h7v1h-7zM1312 525h1v1h-1zM1306 519h1v1h-1zM1318 519h1v1h-1z" fill="#0072b2"/>
<path d="M1318 516h1v1h-1zM1315 517h7v1h-7zM1314 518h2v1h-2zM1321 518h2v1h-2zM1313 519h2v1h-2zM1322 519h2v1h-2zM1313 520h1v1h-1zM1313 521h1v1h-1zM1313 522h1v1h-1zM1313 523h1v1h-1zM1313 524h1v1h-1zM1323 520h1v1h-1zM1323 521h1v1h-1zM1323 522h1v1h-1zM1323 523h1v1h-1zM1323 524h1v1h-1zM1313 525h2v1h-2zM1322 525h2v1h-2zM1314 526h2v1h-2zM1321 526h2v1h-2zM1315 527h7v1h-7zM1318 528h1v1h-1zM1312 522h1v1h-1zM1324 522h1v1h-1z" fill="#0072b2"/>
<path d="M96 533h1v1h-1zM93 534h7v1h-7zM92 535h9v1h-9zM91 536h11v1h-11zM91 537h11v1h-11zM91 538h11v1h-11zM91 539h11v1h-11zM91 540h11v1h-11zM91 541h11v1h-11zM91 542h11v1h-11zM92 543h9v1h-9zM93 544h7v1h-7zM96 545h1v1h-1zM90 539h1v1h-1zM102 539h1v1h-1z" fill="#e51e10"/>
<path d="M143 533h1v1h-1zM140 534h7v1h-7zM139 535h9v1h-9zM138 536h11v1h-11zM138 537h11v1h-11zM138 538h11v1h-11zM138 539h11v1h-11zM138 540h11v1h-11zM138 541h11v1h-11zM138 542h11v1h-11zM139 543h9v1h-9zM140 544h7v1h-7zM143 545h1v1h-1zM137 539h1v1h-1zM149 539h1v1h-1z" fill="#e51e10"/>
<path d="M202 533h1v1h-1zM199 534h7v1h-7zM198 535h9v1h-9zM197 536h11v1h-11zM197 537h11v1h-11zM197 538h11v1h-11zM197 539h11v1h-11zM197 540h11v1h-11zM197 541h11v1h-11zM197 542h11v1h-11zM198 543h9v1h-9zM199 544h7v1h-7zM202 545h1v1h-1zM196 539h1v1h-1zM208 539h1v1h-1z" fill="#e51e10"/>
<path d="M1365 533h1v1h-1zM1362 534h7v1h-7zM1361 535h9v1h-9zM1360 536h11v1h-11zM1360 537h11v1h-11zM1360 538h11v1h-11zM1360 539h11v1h-11zM1360 540h11v1h-11zM1360 541h11v1h-11zM1360 542h11v1h-11zM1361 543h9v1h-9zM1362 544h7v1h-7zM1365 545h1v1h-1zM1359 539h1v1h-1zM1371 539h1v1h-1z" fill="#e51e10"/>
<path d="M249 533h1v1h-1zM246 534h7v1h-7zM245 535h9v1h-9zM244 536h11v1h-11zM244 537h11v1h-11zM244 538h11v1h-11zM244 539h11v1h-11zM244 540h11v1h-11zM244 541h11v1h-11zM244 542h11v1h-11zM245 543h9v1h-9zM246 544h7v1h-7zM249 545h1v1h-1zM243 539h1v1h-1zM255 539h1v1h-1z" fill="#e51e10"/>
<path d="M255 533h1v1h-1zM252 534h7v1h-7zM251 535h9v1h-9zM250 536h11v1h-11zM250 537h11v1h-11zM250 538h11v1h-11zM250 539h11v1h-11zM250 540h11v1h-11zM250 541h11v1h-11zM250 542h11v1h-11zM251 543h9v1h-9zM252 544h7v1h-7zM255 545h1v1h-1zM249 539h1v1h-1zM261 539h1v1h-1z" fill="#e51e10"/>
<path d="M302 533h1v1h-1zM299 534h7v1h-7zM298 535h9v1h-9zM297 536h11v1h-11zM297 537h11v1h-11zM297 538h11v1h-11zM297 539h11v1h-11zM297 540h11v1h-11zM297 541h11v1h-11zM297 542h11v1h-11zM298 543h9v1h-9zM299 544h7v1h-7zM302 545h1v1h-1zM296 539h1v1h-1zM308 539h1v1h-1z" fill="#e51e10"/>
<path d="M308 533h1v1h-1zM305 534h7v1h-7zM304 535h9v1h-9zM303 536h11v1h-11zM303 537h11v1h-11zM303 538h11v1h-11zM303 539h11v1h-11zM303 540h11v1h-11zM303 541h11v1h-11zM303 542h11v1h-11zM304 543h9v1h-9zM305 544h7v1h-7zM308 545h1v1h-1zM302 539h1v1h-1zM314 539h1v1h-1z" fill="#e51e10"/>
<path d="M355 533h1v1h-1zM352 534h7v1h-7zM351 535h9v1h-9zM350 536h11v1h-11zM350 537h11v1h-11zM350 538h11v1h-11zM350 539h11v1h-11zM350 540h11v1h-11zM350 541h11v1h-11zM350 542h11v1h-11zM351 543h9v1h-9zM352 544h7v1h-7zM355 545h1v1h-1zM349 539h1v1h-1zM361 539h1v1h-1z" fill="#e51e10"/>
<path d="M361 533h1v1h-1zM358 534h7v1h-7zM357 535h9v1h-9zM356 536h11v1h-11zM356 537h11v1h-11zM356 538h11v1h-11zM356 539h11v1h-11zM356 540h11v1h-11zM356 541h11v1h-11zM356 542h11v1h-11zM357 543h9v1h-9zM358 544h7v1h-7zM361 545h1v1h-1zM355 539h1v1h-1zM367 539h1v1h-1z" fill="#e51e10"/>
<path d="M409 533h1v1h-1zM406 534h7v1h-7zM405 535h9v1h-9zM404 536h11v1h-11zM404 537h11v1h-11zM404 538h11v1h-11zM404 539h11v1h-11zM404 540h11v1h-11zM404 541h11v1h-11zM404 542h11v1h-11zM405 543h9v1h-9zM406 544h7v1h-7zM409 545h1v1h-1zM403 539h1v1h-1zM415 539h1v1h-1z" fill="#e51e10"/>
<path d="M415 533h1v1h-1zM412 534h7v1h-7zM411 535h9v1h-9zM410 536h11v1h-11zM410 537h11v1h-11zM410 538h11v1h-11zM410 539h11v1h-11zM410 540h11v1h-11zM410 541h11v1h-11zM410 542h11v1h-11zM411 543h9v1h-9zM412 544h7v1h-7zM415 545h1v1h-1zM409 539h1v1h-1zM421 539h1v1h-1z" fill="#e51e10"/>
<path d="M462 533h1v1h-1zM459 534h7v1h-7zM458 535h9v1h-9zM457 536h11v1h-11zM457 537h11v1h-11zM457 538h11v1h-11zM457 539h11v1h-11zM457 540h11v1h-11zM457 541h11v1h-11zM457 542h11v1h-11zM458 543h9v1h-9zM459 544h7v1h-7zM462 545h1v1h-1zM456 539h1v1h-1zM468 539h1v1h-1z" fill="#e51e10"/>
<path d="M468 533h1v1h-1zM465 534h7v1h-7zM464 535h9v1h-9zM463 536h11v1h-11zM463 537h11v1h-11zM463 538h11v1h-11zM463 539h11v1h-11zM463 540h11v1h-11zM463 541h11v1h-11zM463 542h11v1h-11zM464 543h9v1h-9zM465 544h7v1h-7zM468 545h1v1h-1zM462 539h1v1h-1zM474 539h1v1h-1z" fill="#e51e10"/>
<path d="M515 533h1v1h-1zM512 534h7v1h-7zM511 535h9v1h-9zM510 536h11v1h-11zM510 537h11v1h-11zM510 538h11v1h-11zM510 539h11v1h-11zM510 540h11v1h-11zM510 541h11v1h-11zM510 542h11v1h-11zM511 543h9v1h-9zM512 544h7v1h-7zM515 545h1v1h-1zM509 539h1v1h-1zM521 539h1v1h-1z" fill="#e51e10"/>
<path d="M521 533h1v1h-1zM518 534h7v1h-7zM517 535h9v1h-9zM516 536h11v1h-11zM516 537h11v1h-11zM516 538h11v1h-11zM516 539h11v1h-11zM516 540h11v1h-11zM516 541h11v1h-11zM516 542h11v1h-11zM517 543h9v1h-9zM518 544h7v1h-7zM521 545h1v1h-1zM515 539h1v1h-1zM527 539h1v1h-1z" fill="#e51e10"/>
<path d="M568 533h1v1h-1zM565 534h7v1h-7zM564 535h9v1h-9zM563 536h11v1h-11zM563 537h11v1h-11zM563 538h11v1h-11zM563 539h11v1h-11zM563 540h11v1h-11zM563 541h11v1h-11zM563 542h11v1h-11zM564 543h9v1h-9zM565 544h7v1h-7zM568 545h1v1h-1zM562 539h1v1h-1zM574 539h1v1h-1z" fill="#e51e10"/>
<path d="M574 533h1v1h-1zM571 534h7v1h-7zM570 535h9v1h-9zM569 536h11v1h-11zM569 537h11v1h-11zM569 538h11v1h-11zM569 539h11v1h-11zM569 540h11v1h-11zM569 541h11v1h-11zM569 542h11v1h-11zM570 543h9v1h-9zM571 544h7v1h-7zM574 545h1v1h-1zM568 539h1v1h-1zM580 539h1v1h-1z" fill="#e51e10"/>
<path d="M621 533h1v1h-1zM618 534h7v1h-7zM617 535h9v1h-9zM616 536h11v1h-11zM616 537h11v1h-11zM616 538h11v1h-11zM616 539h11v1h-11zM616 540h11v1h-11zM616 541h11v1h-11zM616 542h11v1h-11zM617 543h9v1h-9zM618 544h7v1h-7zM621 545h1v1h-1zM615 539h1v1h-1zM627 539h1v1h-1z" fill="#e51e10"/>
<path d="M627 533h1v1h-1zM624 534h7v1h-7zM623 535h9v1h-9zM622 536h11v1h-11zM622 537h11v1h-11zM622 538h11v1h-11zM622 539h11v1h-11zM622 540h11v1h-11zM622 541h11v1h-11zM622 542h11v1h-11zM623 543h9v1h-9zM624 544h7v1h-7zM627 545h1v1h-1zM621 539h1v1h-1zM633 539h1v1h-1z" fill="#e51e10"/>
<path d="M674 533h1v1h-1zM671 534h7v1h-7zM670 535h9v1h-9zM669 536h11v1h-11zM669 537h11v1h-11zM669 538h11v1h-11zM669 539h11v1h-11zM669 540h11v1h-11zM669 541h11v1h-11zM669 542h11v1h-11zM670 543h9v1h-9zM671 544h7v1h-7zM674 545h1v1h-1zM668 539h1v1h-1zM680 539h1v1h-1z" fill="#e51e10"/>
<path d="M680 533h1v1h-1zM677 534h7v1h-7zM676 535h9v1h-9zM675 536h11v1h-11zM675 537h11v1h-11zM675 538h11v1h-11zM675 539h11v1h-11zM675 540h11v1h-11zM675 541h11v1h-11zM675 542h11v1h-11zM676 543h9v1h-9zM677 544h7v1h-7zM680 545h1v1h-1zM674 539h1v1h-1zM686 539h1v1h-1z" fill="#e51e10"/>
<path d="M727 533h1v1h-1zM724 534h7v1h-7zM723 535h9v1h-9zM722 536h11v1h-11zM722 537h11v1h-11zM722 538h11v1h-11zM722 539h11v1h-11zM722 540h11v1h-11zM722 541h11v1h-11zM722 542h11v1h-11zM723 543h9v1h-9zM724 544h7v1h-7zM727 545h1v1h-1zM721 539h1v1h-1zM733 539h1v1h-1z" fill="#e51e10"/>
<path d="M733 533h1v1h-1zM730 534h7v1h-7zM729 535h9v1h-9zM728 536h11v1h-11zM728 537h11v1h-11zM728 538h11v1h-11zM728 539h11v1h-11zM728 540h11v1h-11zM728 541h11v1h-11zM728 542h11v1h-11zM729 543h9v1h-9zM730 544h7v1h-7zM733 545h1v1h-1zM727 539h1v1h-1zM739 539h1v1h-1z" fill="#e51e10"/>
<path d="M780 533h1v1h-1zM777 534h7v1h-7zM776 535h9v1h-9zM775 536h11v1h-11zM775 537h11v1h-11zM775 538h11v1h-11zM775 539h11v1h-11zM775 540h11v1h-11zM775 541h11v1h-11zM775 542h11v1h-11zM776 543h9v1h-9zM777 544h7v1h-7zM780 545h1v1h-1zM774 539h1v1h-1zM786 539h1v1h-1z" fill="#e51e10"/>
<path d="M786 533h1v1h-1zM783 534h7v1h-7zM782 535h9v1h-9zM781 536h11v1h-11zM781 537h11v1h-11zM781 538h11v1h-11zM781 539h11v1h-11zM781 540h11v1h-11zM781 541h11v1h-11zM781 542h11v1h-11zM782 543h9v1h-9zM783 544h7v1h-7zM786 545h1v1h-1zM780 539h1v1h-1zM792 539h1v1h-1z" fill="#e51e10"/>
<path d="M834 533h1v1h-1zM831 534h7v1h-7zM830 535h9v1h-9zM829 536h11v1h-11zM829 537h11v1h-11zM829 538h11v1h-11zM829 539h11v1h-11zM829 540h11v1h-11zM829 541h11v1h-11zM829 542h11v1h-11zM830 543h9v1h-9zM831 544h7v1h-7zM834 545h1v1h-1zM828 539h1v1h-1zM840 539h1v1h-1z" fill="#e51e10"/>
<path d="M840 533h1v1h-1zM837 534h7v1h-7zM836 535h9v1h-9zM835 536h11v1h-11zM835 537h11v1h-11zM835 538h11v1h-11zM835 539h11v1h-11zM835 540h11v1h-11zM835 541h11v1h-11zM835 542h11v1h-11zM836 543h9v1h-9zM837 544h7v1h-7zM840 545h1v1h-1zM834 539h1v1h-1zM846 539h1v1h-1z" fill="#e51e10"/>
<path d="M887 533h1v1h-1zM884 534h7v1h-7zM883 535h9v1h-9zM882 536h11v1h-11zM882 537h11v1h-11zM882 538h11v1h-11zM882 539h11v1h-11zM882 540h11v1h-11zM882 541h11v1h-11zM882 542h11v1h-11zM883 543h9v1h-9zM884 544h7v1h-7zM887 545h1v1h-1zM881 539h1v1h-1zM893 539h1v1h-1z" fill="#e51e10"/>
<path d="M893 533h1v1h-1zM890 534h7v1h-7zM889 535h9v1h-9zM888 536h11v1h-11zM888 537h11v1h-11zM888 538h11v1h-11zM888 539h11v1h-11zM888 540h11v1h-11zM888 541h11v1h-11zM888 542h11v1h-11zM889 543h9v1h-9zM890 544h7v1h-7zM893 545h1v1h-1zM887 539h1v1h-1zM899 539h1v1h-1z" fill="#e51e10"/>
<path d="M940 533h1v1h-1zM937 534h7v1h-7zM936 535h9v1h-9zM935 536h11v1h-11zM935 537h11v1h-11zM935 538h11v1h-11zM935 539h11v1h-11zM935 540h11v1h-11zM935 541h11v1h-11zM935 542h11v1h-11zM936 543h9v1h-9zM937 544h7v1h-7zM940 545h1v1h-1zM934 539h1v1h-1zM946 539h1v1h-1z" fill="#e51e10"/>
<path d="M946 533h1v1h-1zM943 534h7v1h-7zM942 535h9v1h-9zM941 536h11v1h-11zM941 537h11v1h-11zM941 538h11v1h-11zM941 539h11v1h-11zM941 540h11v1h-11zM941 541h11v1h-11zM941 542h11v1h-11zM942 543h9v1h-9zM943 544h7v1h-7zM946 545h1v1h-1zM940 539h1v1h-1zM952 539h1v1h-1z" fill="#e51e10"/>
<path d="M993 533h1v1h-1zM990 534h7v1h-7zM989 535h9v1h-9zM988 536h11v1h-11zM988 537h11v1h-11zM988 538h11v1h-11zM988 539h11v1h-11zM988 540h11v1h-11zM988 541h11v1h-11zM988 542h11v1h-11zM989 543h9v1h-9zM990 544h7v1h-7zM993 545h1v1h-1zM987 539h1v1h-1zM999 539h1v1h-1z" fill="#e51e10"/>
<path d="M999 533h1v1h-1zM996 534h7v1h-7zM995 535h9v1h-9zM994 536h11v1h-11zM994 537h11v1h-11zM994 538h11v1h-11zM994 539h11v1h-11zM994 540h11v1h-11zM994 541h11v1h-11zM994 542h11v1h-11zM995 543h9v1h-9zM996 544h7v1h-7zM999 545h1v1h-1zM993 539h1v1h-1zM1005 539h1v1h-1z" fill="#e51e10"/>
<path d="M1046 533h1v1h-1zM1043 534h7v1h-7zM1042 535h9v1h-9zM1041 536h11v1h-11zM1041 537h11v1h-11zM1041 538h11v1h-11zM1041 539h11v1h-11zM1041 540h11v1h-11zM1041 541h11v1h-11zM1041 542h11v1h-11zM1042 543h9v1h-9zM1043 544h7v1h-7zM1046 545h1v1h-1zM1040 539h1v1h-1zM1052 539h1v1h-1z" fill="#e51e10"/>
<path d="M1052 533h1v1h-1zM1049 534h7v1h-7zM1048 535h9v1h-9zM1047 536h11v1h-11zM1047 537h11v1h-11zM1047 538h11v1h-11zM1047 539h11v1h-11zM1047 540h11v1h-11zM1047 541h11v1h-11zM1047 542h11v1h-11zM1048 543h9v1h-9zM1049 544h7v1h-7zM1052 545h1v1h-1zM1046 539h1v1h-1zM1058 539h1v1h-1z" fill="#e51e10"/>
<path d="M1099 533h1v1h-1zM1096 534h7v1h-7zM1095 535h9v1h-9zM1094 536h11v1h-11zM1094 537h11v1h-11zM1094 538h11v1h-11zM1094 539h11v1h-11zM1094 540h11v1h-11zM1094 541h11v1h-11zM1094 542h11v1h-11zM1095 543h9v1h-9zM1096 544h7v1h-7zM1099 545h1v1h-1zM1093 539h1v1h-1zM1105 539h1v1h-1z" fill="#e51e10"/>
<path d="M1105 533h1v1h-1zM1102 534h7v1h-7zM1101 535h9v1h-9zM1100 536h11v1h-11zM1100 537h11v1h-11zM1100 538h11v1h-11zM1100 539h11v1h-11zM1100 540h11v1h-11zM1100 541h11v1h-11zM1100 542h11v1h-11zM1101 543h9v1h-9zM1102 544h7v1h-7zM1105 545h1v1h-1zM1099 539h1v1h-1zM1111 539h1v1h-1z" fill="#e51e10"/>
<path d="M1152 533h1v1h-1zM1149 534h7v1h-7zM1148 535h9v1h-9zM1147 536h11v1h-11zM1147 537h11v1h-11zM1147 538h11v1h-11zM1147 539h11v1h-11zM1147 540h11v1h-11zM1147 541h11v1h-11zM1147 542h11v1h-11zM1148 543h9v1h-9zM1149 544h7v1h-7zM1152 545h1v1h-1zM1146 539h1v1h-1zM1158 539h1v1h-1z" fill="#e51e10"/>
<path d="M1158 533h1v1h-1zM1155 534h7v1h-7zM1154 535h9v1h-9zM1153 536h11v1h-11zM1153 537h11v1h-11zM1153 538h11v1h-11zM1153 539h11v1h-11zM1153 540h11v1h-11zM1153 541h11v1h-11zM1153 542h11v1h-11zM1154 543h9v1h-9zM1155 544h7v1h-7zM1158 545h1v1h-1zM1152 539h1v1h-1zM1164 539h1v1h-1z" fill="#e51e10"/>
<path d="M1205 533h1v1h-1zM1202 534h7v1h-7zM1201 535h9v1h-9zM1200 536h11v1h-11zM1200 537h11v1h-11zM1200 538h11v1h-11zM1200 539h11v1h-11zM1200 540h11v1h-11zM1200 541h11v1h-11zM1200 542h11v1h-11zM1201 543h9v1h-9zM1202 544h7v1h-7zM1205 545h1v1h-1zM1199 539h1v1h-1zM1211 539h1v1h-1z" fill="#e51e10"/>
<path d="M1211 533h1v1h-1zM1208 534h7v1h-7zM1207 535h9v1h-9zM1206 536h11v1h-11zM1206 537h11v1h-11zM1206 538h11v1h-11zM1206 539h11v1h-11zM1206 540h11v1h-11zM1206 541h11v1h-11zM1206 542h11v1h-11zM1207 543h9v1h-9zM1208 544h7v1h-7zM1211 545h1v1h-1zM1205 539h1v1h-1zM1217 539h1v1h-1z" fill="#e51e10"/>
<path d="M1259 533h1v1h-1zM1256 534h7v1h-7zM1255 535h9v1h-9zM1254 536h11v1h-11zM1254 537h11v1h-11zM1254 538h11v1h-11zM1254 539h11v1h-11zM1254 540h11v1h-11zM1254 541h11v1h-11zM1254 542h11v1h-11zM1255 543h9v1h-9zM1256 544h7v1h-7zM1259 545h1v1h-1zM1253 539h1v1h-1zM1265 539h1v1h-1z" fill="#e51e10"/>
<path d="M1265 533h1v1h-1zM1262 534h7v1h-7zM1261 535h9v1h-9zM1260 536h11v1h-11zM1260 537h11v1h-11zM1260 538h11v1h-11zM1260 539h11v1h-11zM1260 540h11v1h-11zM1260 541h11v1h-11zM1260 542h11v1h-11zM1261 543h9v1h-9zM1262 544h7v1h-7zM1265 545h1v1h-1zM1259 539h1v1h-1zM1271 539h1v1h-1z" fill="#e51e10"/>
<path d="M1312 533h1v1h-1zM1309 534h7v1h-7zM1308 535h9v1h-9zM1307 536h11v1h-11zM1307 537h11v1h-11zM1307 538h11v1h-11zM1307 539h11v1h-11zM1307 540h11v1h-11zM1307 541h11v1h-11zM1307 542h11v1h-11zM1308 543h9v1h-9zM1309 544h7v1h-7zM1312 545h1v1h-1zM1306 539h1v1h-1zM1318 539h1v1h-1z" fill="#e51e10"/>
<path d="M1318 533h1v1h-1zM1315 534h7v1h-7zM1314 535h9v1h-9zM1313 536h11v1h-11zM1313 537h11v1h-11zM1313 538h11v1h-11zM1313 539h11v1h-11zM1313 540h11v1h-11zM1313 541h11v1h-11zM1313 542h11v1h-11zM1314 543h9v1h-9zM1315 544h7v1h-7zM1318 545h1v1h-1zM1312 539h1v1h-1zM1324 539h1v1h-1z" fill="#e51e10"/>
<path d="M282.5 456.5L274.5 468.5L290.5 468.5Z" fill="none" stroke="#000000"/>
<path d="M276 417.5h13M282.5 411v13" stroke="#009e73" fill="none"/>
<path d="M276 419.5h13M282.5 413v13" stroke="#009e73" fill="none"/>
<path d="M276 421.5h13M282.5 415v13" stroke="#009e73" fill="none"/>
<path d="M86 350H155L147 363H94Z" fill="#e69f00"/>
<path d="M193 350H1377L1369 363H201Z" fill="#e69f00"/>
<path d="M255 362h1v1h-1zM335 362h1v1h-1zM410 362h1v1h-1zM485 362h1v1h-1zM554 362h1v1h-1zM629 362h1v1h-1zM700 362h1v1h-1zM773 362h1v1h-1zM841 362h1v1h-1zM915 362h1v1h-1zM1060 362h1v1h-1zM1205 362h1v1h-1zM1278 362h1v1h-1z" fill="#fff"/>
</g>
<g shape-rendering="crispEdges">
<rect x="1303" y="73" width="47" height="1" fill="#9400d3"/>
<rect x="1303" y="92" width="47" height="1" fill="#009e73"/>
<rect x="1303" y="111" width="47" height="1" fill="#56b4e9"/>
<rect x="1320.5" y="124.5" width="12" height="12" fill="none" stroke="#e69f00"/>
<rect x="1320" y="143" width="13" height="13" fill="#f0e442"/>
<path d="M1326 162h1v1h-1zM1323 163h7v1h-7zM1322 164h2v1h-2zM1329 164h2v1h-2zM1321 165h2v1h-2zM1330 165h2v1h-2zM1321 166h1v1h-1zM1321 167h1v1h-1zM1321 168h1v1h-1zM1321 169h1v1h-1zM1321 170h1v1h-1zM1331 166h1v1h-1zM1331 167h1v1h-1zM1331 168h1v1h-1zM1331 169h1v1h-1zM1331 170h1v1h-1zM1321 171h2v1h-2zM1330 171h2v1h-2zM1322 172h2v1h-2zM1329 172h2v1h-2zM1323 173h7v1h-7zM1326 174h1v1h-1zM1320 168h1v1h-1zM1332 168h1v1h-1z" fill="#0072b2"/>
<path d="M1326 181h1v1h-1zM1323 182h7v1h-7zM1322 183h9v1h-9zM1321 184h11v1h-11zM1321 185h11v1h-11zM1321 186h11v1h-11zM1321 187h11v1h-11zM1321 188h11v1h-11zM1321 189h11v1h-11zM1321 190h11v1h-11zM1322 191h9v1h-9zM1323 192h7v1h-7zM1326 193h1v1h-1zM1320 187h1v1h-1zM1332 187h1v1h-1z" fill="#e51e10"/>
<path d="M1326.5 198.5L1318.5 210.5L1334.5 210.5Z" fill="none" stroke="#000000"/>
<path d="M1326.5 217L1318 230L1335 230Z" fill="#9400d3"/>
<path d="M1320 244.5h13M1326.5 238v13" stroke="#009e73" fill="none"/>
<path d="M1318.5 259.5L1334.5 259.5L1326.5 271.5Z" fill="none" stroke="#56b4e9"/>
<path d="M1318.5 278.5L1334.5 278.5L1326.5 290.5Z" fill="none" stroke="#e69f00"/>
</g>
<path d="M94.5 57.5H1369.5V539.5H94.5Z" stroke="#000" fill="none" shape-rendering="crispEdges"/>
</svg></body></html>
